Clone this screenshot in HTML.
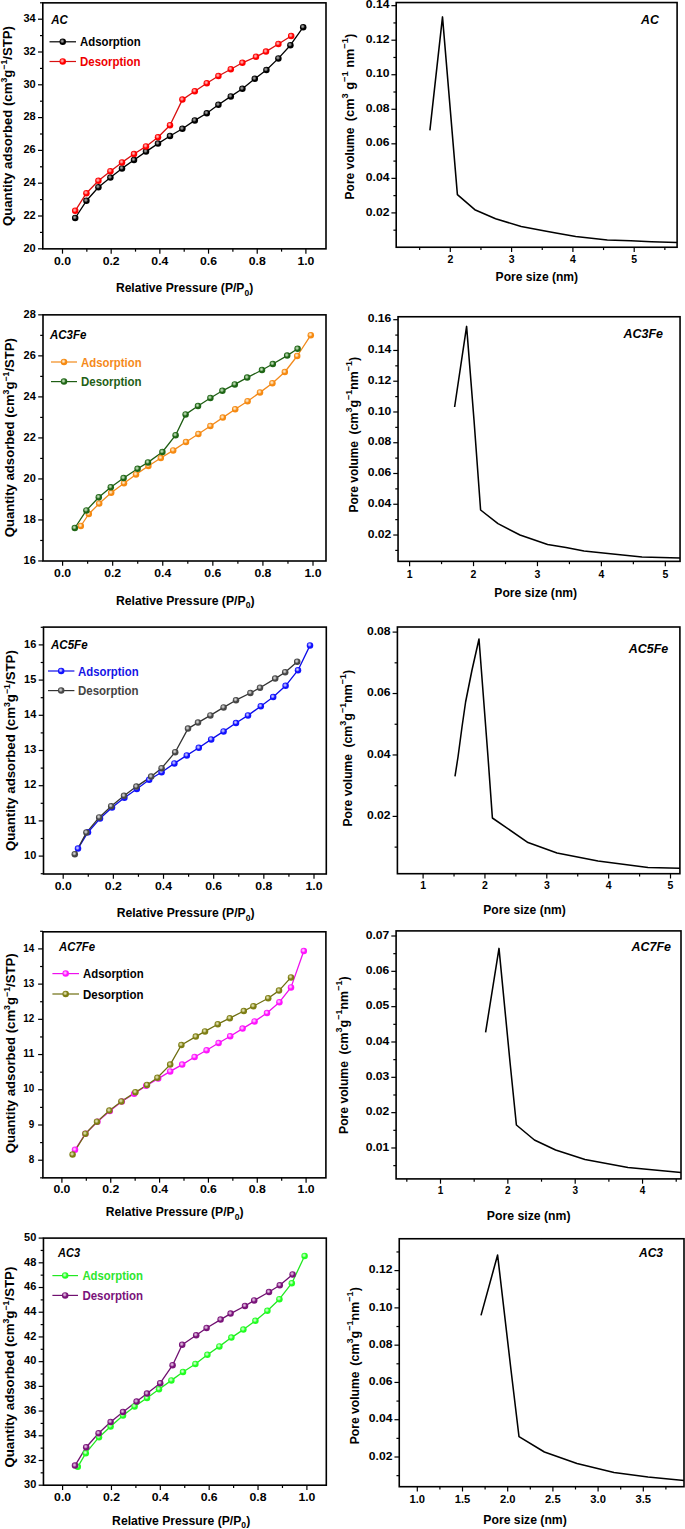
<!DOCTYPE html>
<html><head><meta charset="utf-8"><style>
html,body{margin:0;padding:0;background:#fff;}
svg{display:block;font-family:"Liberation Sans", sans-serif;}
</style></head><body>
<svg width="685" height="1529" viewBox="0 0 685 1529">
<defs><radialGradient id="g0" cx="0.42" cy="0.4" r="0.34"><stop offset="0" stop-color="#bbb" stop-opacity="0.95"/><stop offset="0.5" stop-color="#bbb" stop-opacity="0.6"/><stop offset="1" stop-color="#bbb" stop-opacity="0"/></radialGradient><radialGradient id="g1" cx="0.42" cy="0.4" r="0.34"><stop offset="0" stop-color="#fcc" stop-opacity="0.95"/><stop offset="0.5" stop-color="#fcc" stop-opacity="0.6"/><stop offset="1" stop-color="#fcc" stop-opacity="0"/></radialGradient><radialGradient id="g2" cx="0.42" cy="0.4" r="0.34"><stop offset="0" stop-color="#fff6e0" stop-opacity="0.95"/><stop offset="0.5" stop-color="#fff6e0" stop-opacity="0.6"/><stop offset="1" stop-color="#fff6e0" stop-opacity="0"/></radialGradient><radialGradient id="g3" cx="0.42" cy="0.4" r="0.34"><stop offset="0" stop-color="#d8f0d0" stop-opacity="0.95"/><stop offset="0.5" stop-color="#d8f0d0" stop-opacity="0.6"/><stop offset="1" stop-color="#d8f0d0" stop-opacity="0"/></radialGradient><radialGradient id="g4" cx="0.42" cy="0.4" r="0.34"><stop offset="0" stop-color="#e0e0ff" stop-opacity="0.95"/><stop offset="0.5" stop-color="#e0e0ff" stop-opacity="0.6"/><stop offset="1" stop-color="#e0e0ff" stop-opacity="0"/></radialGradient><radialGradient id="g5" cx="0.42" cy="0.4" r="0.34"><stop offset="0" stop-color="#e8e8e8" stop-opacity="0.95"/><stop offset="0.5" stop-color="#e8e8e8" stop-opacity="0.6"/><stop offset="1" stop-color="#e8e8e8" stop-opacity="0"/></radialGradient><radialGradient id="g6" cx="0.42" cy="0.4" r="0.34"><stop offset="0" stop-color="#ffe0ff" stop-opacity="0.95"/><stop offset="0.5" stop-color="#ffe0ff" stop-opacity="0.6"/><stop offset="1" stop-color="#ffe0ff" stop-opacity="0"/></radialGradient><radialGradient id="g7" cx="0.42" cy="0.4" r="0.34"><stop offset="0" stop-color="#f0f0c8" stop-opacity="0.95"/><stop offset="0.5" stop-color="#f0f0c8" stop-opacity="0.6"/><stop offset="1" stop-color="#f0f0c8" stop-opacity="0"/></radialGradient><radialGradient id="g8" cx="0.42" cy="0.4" r="0.34"><stop offset="0" stop-color="#e8ffe8" stop-opacity="0.95"/><stop offset="0.5" stop-color="#e8ffe8" stop-opacity="0.6"/><stop offset="1" stop-color="#e8ffe8" stop-opacity="0"/></radialGradient><radialGradient id="g9" cx="0.42" cy="0.4" r="0.34"><stop offset="0" stop-color="#f0d8f0" stop-opacity="0.95"/><stop offset="0.5" stop-color="#f0d8f0" stop-opacity="0.6"/><stop offset="1" stop-color="#f0d8f0" stop-opacity="0"/></radialGradient></defs>
<rect width="685" height="1529" fill="#fff"/>
<polyline points="75.2,218 86.4,200.8 98.4,187.2 110.4,177.6 122,168.4 134,160 146,151.6 158,143.6 170,136 182.4,128.8 194.8,120.4 206.8,113.2 218.4,104.8 230.8,96.4 242.4,88.8 254.8,78.8 266.4,70 278.4,58.4 290.4,45.2 303.2,27.2" fill="none" stroke="#000" stroke-width="1.3" stroke-linejoin="round"/>
<polyline points="75.2,210.8 86.4,193.2 98.4,180.8 110.4,171.2 122,162.4 134,154 146,146.4 158,137.2 170,125.2 182.4,99.6 194.8,91.2 206.8,83.2 218.4,76 230.8,69.2 242.4,62.8 256,56.8 266,51.6 278.4,44 291.2,36" fill="none" stroke="#d81010" stroke-width="1.3" stroke-linejoin="round"/>
<circle cx="75.2" cy="218" r="3.25" fill="#000"/><circle cx="75.2" cy="218" r="3.25" fill="url(#g0)"/>
<circle cx="86.4" cy="200.8" r="3.25" fill="#000"/><circle cx="86.4" cy="200.8" r="3.25" fill="url(#g0)"/>
<circle cx="98.4" cy="187.2" r="3.25" fill="#000"/><circle cx="98.4" cy="187.2" r="3.25" fill="url(#g0)"/>
<circle cx="110.4" cy="177.6" r="3.25" fill="#000"/><circle cx="110.4" cy="177.6" r="3.25" fill="url(#g0)"/>
<circle cx="122" cy="168.4" r="3.25" fill="#000"/><circle cx="122" cy="168.4" r="3.25" fill="url(#g0)"/>
<circle cx="134" cy="160" r="3.25" fill="#000"/><circle cx="134" cy="160" r="3.25" fill="url(#g0)"/>
<circle cx="146" cy="151.6" r="3.25" fill="#000"/><circle cx="146" cy="151.6" r="3.25" fill="url(#g0)"/>
<circle cx="158" cy="143.6" r="3.25" fill="#000"/><circle cx="158" cy="143.6" r="3.25" fill="url(#g0)"/>
<circle cx="170" cy="136" r="3.25" fill="#000"/><circle cx="170" cy="136" r="3.25" fill="url(#g0)"/>
<circle cx="182.4" cy="128.8" r="3.25" fill="#000"/><circle cx="182.4" cy="128.8" r="3.25" fill="url(#g0)"/>
<circle cx="194.8" cy="120.4" r="3.25" fill="#000"/><circle cx="194.8" cy="120.4" r="3.25" fill="url(#g0)"/>
<circle cx="206.8" cy="113.2" r="3.25" fill="#000"/><circle cx="206.8" cy="113.2" r="3.25" fill="url(#g0)"/>
<circle cx="218.4" cy="104.8" r="3.25" fill="#000"/><circle cx="218.4" cy="104.8" r="3.25" fill="url(#g0)"/>
<circle cx="230.8" cy="96.4" r="3.25" fill="#000"/><circle cx="230.8" cy="96.4" r="3.25" fill="url(#g0)"/>
<circle cx="242.4" cy="88.8" r="3.25" fill="#000"/><circle cx="242.4" cy="88.8" r="3.25" fill="url(#g0)"/>
<circle cx="254.8" cy="78.8" r="3.25" fill="#000"/><circle cx="254.8" cy="78.8" r="3.25" fill="url(#g0)"/>
<circle cx="266.4" cy="70" r="3.25" fill="#000"/><circle cx="266.4" cy="70" r="3.25" fill="url(#g0)"/>
<circle cx="278.4" cy="58.4" r="3.25" fill="#000"/><circle cx="278.4" cy="58.4" r="3.25" fill="url(#g0)"/>
<circle cx="290.4" cy="45.2" r="3.25" fill="#000"/><circle cx="290.4" cy="45.2" r="3.25" fill="url(#g0)"/>
<circle cx="303.2" cy="27.2" r="3.25" fill="#000"/><circle cx="303.2" cy="27.2" r="3.25" fill="url(#g0)"/>
<circle cx="75.2" cy="210.8" r="3.25" fill="#f00"/><circle cx="75.2" cy="210.8" r="3.25" fill="url(#g1)"/>
<circle cx="86.4" cy="193.2" r="3.25" fill="#f00"/><circle cx="86.4" cy="193.2" r="3.25" fill="url(#g1)"/>
<circle cx="98.4" cy="180.8" r="3.25" fill="#f00"/><circle cx="98.4" cy="180.8" r="3.25" fill="url(#g1)"/>
<circle cx="110.4" cy="171.2" r="3.25" fill="#f00"/><circle cx="110.4" cy="171.2" r="3.25" fill="url(#g1)"/>
<circle cx="122" cy="162.4" r="3.25" fill="#f00"/><circle cx="122" cy="162.4" r="3.25" fill="url(#g1)"/>
<circle cx="134" cy="154" r="3.25" fill="#f00"/><circle cx="134" cy="154" r="3.25" fill="url(#g1)"/>
<circle cx="146" cy="146.4" r="3.25" fill="#f00"/><circle cx="146" cy="146.4" r="3.25" fill="url(#g1)"/>
<circle cx="158" cy="137.2" r="3.25" fill="#f00"/><circle cx="158" cy="137.2" r="3.25" fill="url(#g1)"/>
<circle cx="170" cy="125.2" r="3.25" fill="#f00"/><circle cx="170" cy="125.2" r="3.25" fill="url(#g1)"/>
<circle cx="182.4" cy="99.6" r="3.25" fill="#f00"/><circle cx="182.4" cy="99.6" r="3.25" fill="url(#g1)"/>
<circle cx="194.8" cy="91.2" r="3.25" fill="#f00"/><circle cx="194.8" cy="91.2" r="3.25" fill="url(#g1)"/>
<circle cx="206.8" cy="83.2" r="3.25" fill="#f00"/><circle cx="206.8" cy="83.2" r="3.25" fill="url(#g1)"/>
<circle cx="218.4" cy="76" r="3.25" fill="#f00"/><circle cx="218.4" cy="76" r="3.25" fill="url(#g1)"/>
<circle cx="230.8" cy="69.2" r="3.25" fill="#f00"/><circle cx="230.8" cy="69.2" r="3.25" fill="url(#g1)"/>
<circle cx="242.4" cy="62.8" r="3.25" fill="#f00"/><circle cx="242.4" cy="62.8" r="3.25" fill="url(#g1)"/>
<circle cx="256" cy="56.8" r="3.25" fill="#f00"/><circle cx="256" cy="56.8" r="3.25" fill="url(#g1)"/>
<circle cx="266" cy="51.6" r="3.25" fill="#f00"/><circle cx="266" cy="51.6" r="3.25" fill="url(#g1)"/>
<circle cx="278.4" cy="44" r="3.25" fill="#f00"/><circle cx="278.4" cy="44" r="3.25" fill="url(#g1)"/>
<circle cx="291.2" cy="36" r="3.25" fill="#f00"/><circle cx="291.2" cy="36" r="3.25" fill="url(#g1)"/>
<rect x="42.8" y="2.85" width="283.2" height="246" fill="none" stroke="#000" stroke-width="1.6"/>
<line x1="38" y1="248.8" x2="42.8" y2="248.8" stroke="#000" stroke-width="1.2"/>
<line x1="38" y1="216" x2="42.8" y2="216" stroke="#000" stroke-width="1.2"/>
<line x1="38" y1="183.2" x2="42.8" y2="183.2" stroke="#000" stroke-width="1.2"/>
<line x1="38" y1="150.4" x2="42.8" y2="150.4" stroke="#000" stroke-width="1.2"/>
<line x1="38" y1="117.6" x2="42.8" y2="117.6" stroke="#000" stroke-width="1.2"/>
<line x1="38" y1="84.8" x2="42.8" y2="84.8" stroke="#000" stroke-width="1.2"/>
<line x1="38" y1="52" x2="42.8" y2="52" stroke="#000" stroke-width="1.2"/>
<line x1="38" y1="19.2" x2="42.8" y2="19.2" stroke="#000" stroke-width="1.2"/>
<line x1="40" y1="232.4" x2="42.8" y2="232.4" stroke="#000" stroke-width="1.2"/>
<line x1="40" y1="199.6" x2="42.8" y2="199.6" stroke="#000" stroke-width="1.2"/>
<line x1="40" y1="166.8" x2="42.8" y2="166.8" stroke="#000" stroke-width="1.2"/>
<line x1="40" y1="134" x2="42.8" y2="134" stroke="#000" stroke-width="1.2"/>
<line x1="40" y1="101.2" x2="42.8" y2="101.2" stroke="#000" stroke-width="1.2"/>
<line x1="40" y1="68.4" x2="42.8" y2="68.4" stroke="#000" stroke-width="1.2"/>
<line x1="40" y1="35.6" x2="42.8" y2="35.6" stroke="#000" stroke-width="1.2"/>
<line x1="40" y1="2.8" x2="42.8" y2="2.8" stroke="#000" stroke-width="1.2"/>
<text x="35.6" y="251.5" font-size="11.8" text-anchor="end" font-weight="bold" font-style="normal" fill="#000" textLength="12.2" lengthAdjust="spacingAndGlyphs">20</text>
<text x="35.6" y="218.7" font-size="11.8" text-anchor="end" font-weight="bold" font-style="normal" fill="#000" textLength="12.2" lengthAdjust="spacingAndGlyphs">22</text>
<text x="35.6" y="185.9" font-size="11.8" text-anchor="end" font-weight="bold" font-style="normal" fill="#000" textLength="12.2" lengthAdjust="spacingAndGlyphs">24</text>
<text x="35.6" y="153.1" font-size="11.8" text-anchor="end" font-weight="bold" font-style="normal" fill="#000" textLength="12.2" lengthAdjust="spacingAndGlyphs">26</text>
<text x="35.6" y="120.3" font-size="11.8" text-anchor="end" font-weight="bold" font-style="normal" fill="#000" textLength="12.2" lengthAdjust="spacingAndGlyphs">28</text>
<text x="35.6" y="87.5" font-size="11.8" text-anchor="end" font-weight="bold" font-style="normal" fill="#000" textLength="12.2" lengthAdjust="spacingAndGlyphs">30</text>
<text x="35.6" y="54.7" font-size="11.8" text-anchor="end" font-weight="bold" font-style="normal" fill="#000" textLength="12.2" lengthAdjust="spacingAndGlyphs">32</text>
<text x="35.6" y="21.9" font-size="11.8" text-anchor="end" font-weight="bold" font-style="normal" fill="#000" textLength="12.2" lengthAdjust="spacingAndGlyphs">34</text>
<line x1="62.5" y1="248.85" x2="62.5" y2="253.65" stroke="#000" stroke-width="1.2"/>
<line x1="111.18" y1="248.85" x2="111.18" y2="253.65" stroke="#000" stroke-width="1.2"/>
<line x1="159.86" y1="248.85" x2="159.86" y2="253.65" stroke="#000" stroke-width="1.2"/>
<line x1="208.54" y1="248.85" x2="208.54" y2="253.65" stroke="#000" stroke-width="1.2"/>
<line x1="257.22" y1="248.85" x2="257.22" y2="253.65" stroke="#000" stroke-width="1.2"/>
<line x1="305.9" y1="248.85" x2="305.9" y2="253.65" stroke="#000" stroke-width="1.2"/>
<line x1="86.84" y1="248.85" x2="86.84" y2="251.65" stroke="#000" stroke-width="1.2"/>
<line x1="135.52" y1="248.85" x2="135.52" y2="251.65" stroke="#000" stroke-width="1.2"/>
<line x1="184.2" y1="248.85" x2="184.2" y2="251.65" stroke="#000" stroke-width="1.2"/>
<line x1="232.88" y1="248.85" x2="232.88" y2="251.65" stroke="#000" stroke-width="1.2"/>
<line x1="281.56" y1="248.85" x2="281.56" y2="251.65" stroke="#000" stroke-width="1.2"/>
<text x="62.5" y="264.9" font-size="11" text-anchor="middle" font-weight="bold" font-style="normal" fill="#000" textLength="17" lengthAdjust="spacingAndGlyphs">0.0</text>
<text x="111.18" y="264.9" font-size="11" text-anchor="middle" font-weight="bold" font-style="normal" fill="#000" textLength="17" lengthAdjust="spacingAndGlyphs">0.2</text>
<text x="159.86" y="264.9" font-size="11" text-anchor="middle" font-weight="bold" font-style="normal" fill="#000" textLength="17" lengthAdjust="spacingAndGlyphs">0.4</text>
<text x="208.54" y="264.9" font-size="11" text-anchor="middle" font-weight="bold" font-style="normal" fill="#000" textLength="17" lengthAdjust="spacingAndGlyphs">0.6</text>
<text x="257.22" y="264.9" font-size="11" text-anchor="middle" font-weight="bold" font-style="normal" fill="#000" textLength="17" lengthAdjust="spacingAndGlyphs">0.8</text>
<text x="305.9" y="264.9" font-size="11" text-anchor="middle" font-weight="bold" font-style="normal" fill="#000" textLength="17" lengthAdjust="spacingAndGlyphs">1.0</text>
<text x="115.9" y="292" font-size="13.5" font-weight="bold" textLength="137.3" lengthAdjust="spacingAndGlyphs">Relative Pressure (P/P<tspan font-size="9.5" dy="3.8">0</tspan><tspan dy="-3.8">)</tspan></text>
<text transform="translate(12.2,226) rotate(-90)" x="0" y="0" font-size="13.5" font-weight="bold" textLength="200" lengthAdjust="spacingAndGlyphs">Quantity adsorbed (cm<tspan font-size="9" dy="-5">3</tspan><tspan dy="5">g</tspan><tspan font-size="9" dy="-5">&#8722;1</tspan><tspan dy="5">/STP)</tspan></text>
<text x="51.3" y="24.4" font-size="12.8" text-anchor="start" font-weight="bold" font-style="italic" fill="#000" textLength="16.6" lengthAdjust="spacingAndGlyphs">AC</text>
<line x1="49.5" y1="41.8" x2="76" y2="41.8" stroke="#000" stroke-width="1.2"/>
<line x1="49.5" y1="61.5" x2="76" y2="61.5" stroke="#d81010" stroke-width="1.2"/>
<circle cx="62.75" cy="41.8" r="3.25" fill="#000"/><circle cx="62.75" cy="41.8" r="3.25" fill="url(#g0)"/>
<circle cx="62.75" cy="61.5" r="3.25" fill="#f00"/><circle cx="62.75" cy="61.5" r="3.25" fill="url(#g1)"/>
<text x="80" y="46.4" font-size="13" text-anchor="start" font-weight="bold" font-style="normal" fill="#000" textLength="60.6" lengthAdjust="spacingAndGlyphs">Adsorption</text>
<text x="80" y="66.1" font-size="13" text-anchor="start" font-weight="bold" font-style="normal" fill="#e00" textLength="60.6" lengthAdjust="spacingAndGlyphs">Desorption</text>
<polyline points="80.8,526 88.8,514 99.2,503.6 111.2,492.8 124,483.2 136,474.4 148.4,466 160.8,458 173.2,450.4 186,442 198.4,434 210.4,426 222.8,417.6 235.2,409.2 247.6,401.2 260,392.4 272.4,383.2 284.8,372 297.2,356 310.8,335.2" fill="none" stroke="#f28a1c" stroke-width="1.3" stroke-linejoin="round"/>
<polyline points="74.8,528 86.4,510.4 98.8,497.2 110.8,487.2 123.6,478 137.6,468.8 148,462.4 162.4,452 175.6,435.2 185.6,414.4 198,406 210.4,398 222.4,390.8 234.8,384.4 247.2,377.6 262,370 272.8,364 287.2,355.6 297.6,348.8" fill="none" stroke="#1f5e14" stroke-width="1.3" stroke-linejoin="round"/>
<circle cx="80.8" cy="526" r="3.25" fill="#f68a12"/><circle cx="80.8" cy="526" r="3.25" fill="url(#g2)"/>
<circle cx="88.8" cy="514" r="3.25" fill="#f68a12"/><circle cx="88.8" cy="514" r="3.25" fill="url(#g2)"/>
<circle cx="99.2" cy="503.6" r="3.25" fill="#f68a12"/><circle cx="99.2" cy="503.6" r="3.25" fill="url(#g2)"/>
<circle cx="111.2" cy="492.8" r="3.25" fill="#f68a12"/><circle cx="111.2" cy="492.8" r="3.25" fill="url(#g2)"/>
<circle cx="124" cy="483.2" r="3.25" fill="#f68a12"/><circle cx="124" cy="483.2" r="3.25" fill="url(#g2)"/>
<circle cx="136" cy="474.4" r="3.25" fill="#f68a12"/><circle cx="136" cy="474.4" r="3.25" fill="url(#g2)"/>
<circle cx="148.4" cy="466" r="3.25" fill="#f68a12"/><circle cx="148.4" cy="466" r="3.25" fill="url(#g2)"/>
<circle cx="160.8" cy="458" r="3.25" fill="#f68a12"/><circle cx="160.8" cy="458" r="3.25" fill="url(#g2)"/>
<circle cx="173.2" cy="450.4" r="3.25" fill="#f68a12"/><circle cx="173.2" cy="450.4" r="3.25" fill="url(#g2)"/>
<circle cx="186" cy="442" r="3.25" fill="#f68a12"/><circle cx="186" cy="442" r="3.25" fill="url(#g2)"/>
<circle cx="198.4" cy="434" r="3.25" fill="#f68a12"/><circle cx="198.4" cy="434" r="3.25" fill="url(#g2)"/>
<circle cx="210.4" cy="426" r="3.25" fill="#f68a12"/><circle cx="210.4" cy="426" r="3.25" fill="url(#g2)"/>
<circle cx="222.8" cy="417.6" r="3.25" fill="#f68a12"/><circle cx="222.8" cy="417.6" r="3.25" fill="url(#g2)"/>
<circle cx="235.2" cy="409.2" r="3.25" fill="#f68a12"/><circle cx="235.2" cy="409.2" r="3.25" fill="url(#g2)"/>
<circle cx="247.6" cy="401.2" r="3.25" fill="#f68a12"/><circle cx="247.6" cy="401.2" r="3.25" fill="url(#g2)"/>
<circle cx="260" cy="392.4" r="3.25" fill="#f68a12"/><circle cx="260" cy="392.4" r="3.25" fill="url(#g2)"/>
<circle cx="272.4" cy="383.2" r="3.25" fill="#f68a12"/><circle cx="272.4" cy="383.2" r="3.25" fill="url(#g2)"/>
<circle cx="284.8" cy="372" r="3.25" fill="#f68a12"/><circle cx="284.8" cy="372" r="3.25" fill="url(#g2)"/>
<circle cx="297.2" cy="356" r="3.25" fill="#f68a12"/><circle cx="297.2" cy="356" r="3.25" fill="url(#g2)"/>
<circle cx="310.8" cy="335.2" r="3.25" fill="#f68a12"/><circle cx="310.8" cy="335.2" r="3.25" fill="url(#g2)"/>
<circle cx="74.8" cy="528" r="3.25" fill="#1f6616"/><circle cx="74.8" cy="528" r="3.25" fill="url(#g3)"/>
<circle cx="86.4" cy="510.4" r="3.25" fill="#1f6616"/><circle cx="86.4" cy="510.4" r="3.25" fill="url(#g3)"/>
<circle cx="98.8" cy="497.2" r="3.25" fill="#1f6616"/><circle cx="98.8" cy="497.2" r="3.25" fill="url(#g3)"/>
<circle cx="110.8" cy="487.2" r="3.25" fill="#1f6616"/><circle cx="110.8" cy="487.2" r="3.25" fill="url(#g3)"/>
<circle cx="123.6" cy="478" r="3.25" fill="#1f6616"/><circle cx="123.6" cy="478" r="3.25" fill="url(#g3)"/>
<circle cx="137.6" cy="468.8" r="3.25" fill="#1f6616"/><circle cx="137.6" cy="468.8" r="3.25" fill="url(#g3)"/>
<circle cx="148" cy="462.4" r="3.25" fill="#1f6616"/><circle cx="148" cy="462.4" r="3.25" fill="url(#g3)"/>
<circle cx="162.4" cy="452" r="3.25" fill="#1f6616"/><circle cx="162.4" cy="452" r="3.25" fill="url(#g3)"/>
<circle cx="175.6" cy="435.2" r="3.25" fill="#1f6616"/><circle cx="175.6" cy="435.2" r="3.25" fill="url(#g3)"/>
<circle cx="185.6" cy="414.4" r="3.25" fill="#1f6616"/><circle cx="185.6" cy="414.4" r="3.25" fill="url(#g3)"/>
<circle cx="198" cy="406" r="3.25" fill="#1f6616"/><circle cx="198" cy="406" r="3.25" fill="url(#g3)"/>
<circle cx="210.4" cy="398" r="3.25" fill="#1f6616"/><circle cx="210.4" cy="398" r="3.25" fill="url(#g3)"/>
<circle cx="222.4" cy="390.8" r="3.25" fill="#1f6616"/><circle cx="222.4" cy="390.8" r="3.25" fill="url(#g3)"/>
<circle cx="234.8" cy="384.4" r="3.25" fill="#1f6616"/><circle cx="234.8" cy="384.4" r="3.25" fill="url(#g3)"/>
<circle cx="247.2" cy="377.6" r="3.25" fill="#1f6616"/><circle cx="247.2" cy="377.6" r="3.25" fill="url(#g3)"/>
<circle cx="262" cy="370" r="3.25" fill="#1f6616"/><circle cx="262" cy="370" r="3.25" fill="url(#g3)"/>
<circle cx="272.8" cy="364" r="3.25" fill="#1f6616"/><circle cx="272.8" cy="364" r="3.25" fill="url(#g3)"/>
<circle cx="287.2" cy="355.6" r="3.25" fill="#1f6616"/><circle cx="287.2" cy="355.6" r="3.25" fill="url(#g3)"/>
<circle cx="297.6" cy="348.8" r="3.25" fill="#1f6616"/><circle cx="297.6" cy="348.8" r="3.25" fill="url(#g3)"/>
<rect x="43" y="314.85" width="283" height="246.15" fill="none" stroke="#000" stroke-width="1.6"/>
<line x1="38.2" y1="560.97" x2="43" y2="560.97" stroke="#000" stroke-width="1.2"/>
<line x1="38.2" y1="519.95" x2="43" y2="519.95" stroke="#000" stroke-width="1.2"/>
<line x1="38.2" y1="478.93" x2="43" y2="478.93" stroke="#000" stroke-width="1.2"/>
<line x1="38.2" y1="437.91" x2="43" y2="437.91" stroke="#000" stroke-width="1.2"/>
<line x1="38.2" y1="396.89" x2="43" y2="396.89" stroke="#000" stroke-width="1.2"/>
<line x1="38.2" y1="355.87" x2="43" y2="355.87" stroke="#000" stroke-width="1.2"/>
<line x1="38.2" y1="314.85" x2="43" y2="314.85" stroke="#000" stroke-width="1.2"/>
<line x1="40.2" y1="540.46" x2="43" y2="540.46" stroke="#000" stroke-width="1.2"/>
<line x1="40.2" y1="499.44" x2="43" y2="499.44" stroke="#000" stroke-width="1.2"/>
<line x1="40.2" y1="458.42" x2="43" y2="458.42" stroke="#000" stroke-width="1.2"/>
<line x1="40.2" y1="417.4" x2="43" y2="417.4" stroke="#000" stroke-width="1.2"/>
<line x1="40.2" y1="376.38" x2="43" y2="376.38" stroke="#000" stroke-width="1.2"/>
<line x1="40.2" y1="335.36" x2="43" y2="335.36" stroke="#000" stroke-width="1.2"/>
<text x="35.8" y="563.67" font-size="11.8" text-anchor="end" font-weight="bold" font-style="normal" fill="#000" textLength="12.2" lengthAdjust="spacingAndGlyphs">16</text>
<text x="35.8" y="522.65" font-size="11.8" text-anchor="end" font-weight="bold" font-style="normal" fill="#000" textLength="12.2" lengthAdjust="spacingAndGlyphs">18</text>
<text x="35.8" y="481.63" font-size="11.8" text-anchor="end" font-weight="bold" font-style="normal" fill="#000" textLength="12.2" lengthAdjust="spacingAndGlyphs">20</text>
<text x="35.8" y="440.61" font-size="11.8" text-anchor="end" font-weight="bold" font-style="normal" fill="#000" textLength="12.2" lengthAdjust="spacingAndGlyphs">22</text>
<text x="35.8" y="399.59" font-size="11.8" text-anchor="end" font-weight="bold" font-style="normal" fill="#000" textLength="12.2" lengthAdjust="spacingAndGlyphs">24</text>
<text x="35.8" y="358.57" font-size="11.8" text-anchor="end" font-weight="bold" font-style="normal" fill="#000" textLength="12.2" lengthAdjust="spacingAndGlyphs">26</text>
<text x="35.8" y="317.55" font-size="11.8" text-anchor="end" font-weight="bold" font-style="normal" fill="#000" textLength="12.2" lengthAdjust="spacingAndGlyphs">28</text>
<line x1="62.6" y1="561" x2="62.6" y2="565.8" stroke="#000" stroke-width="1.2"/>
<line x1="112.68" y1="561" x2="112.68" y2="565.8" stroke="#000" stroke-width="1.2"/>
<line x1="162.76" y1="561" x2="162.76" y2="565.8" stroke="#000" stroke-width="1.2"/>
<line x1="212.84" y1="561" x2="212.84" y2="565.8" stroke="#000" stroke-width="1.2"/>
<line x1="262.92" y1="561" x2="262.92" y2="565.8" stroke="#000" stroke-width="1.2"/>
<line x1="313" y1="561" x2="313" y2="565.8" stroke="#000" stroke-width="1.2"/>
<line x1="87.64" y1="561" x2="87.64" y2="563.8" stroke="#000" stroke-width="1.2"/>
<line x1="137.72" y1="561" x2="137.72" y2="563.8" stroke="#000" stroke-width="1.2"/>
<line x1="187.8" y1="561" x2="187.8" y2="563.8" stroke="#000" stroke-width="1.2"/>
<line x1="237.88" y1="561" x2="237.88" y2="563.8" stroke="#000" stroke-width="1.2"/>
<line x1="287.96" y1="561" x2="287.96" y2="563.8" stroke="#000" stroke-width="1.2"/>
<text x="62.6" y="577.4" font-size="11" text-anchor="middle" font-weight="bold" font-style="normal" fill="#000" textLength="17" lengthAdjust="spacingAndGlyphs">0.0</text>
<text x="112.68" y="577.4" font-size="11" text-anchor="middle" font-weight="bold" font-style="normal" fill="#000" textLength="17" lengthAdjust="spacingAndGlyphs">0.2</text>
<text x="162.76" y="577.4" font-size="11" text-anchor="middle" font-weight="bold" font-style="normal" fill="#000" textLength="17" lengthAdjust="spacingAndGlyphs">0.4</text>
<text x="212.84" y="577.4" font-size="11" text-anchor="middle" font-weight="bold" font-style="normal" fill="#000" textLength="17" lengthAdjust="spacingAndGlyphs">0.6</text>
<text x="262.92" y="577.4" font-size="11" text-anchor="middle" font-weight="bold" font-style="normal" fill="#000" textLength="17" lengthAdjust="spacingAndGlyphs">0.8</text>
<text x="313" y="577.4" font-size="11" text-anchor="middle" font-weight="bold" font-style="normal" fill="#000" textLength="17" lengthAdjust="spacingAndGlyphs">1.0</text>
<text x="115.9" y="604.5" font-size="13.5" font-weight="bold" textLength="138.6" lengthAdjust="spacingAndGlyphs">Relative Pressure (P/P<tspan font-size="9.5" dy="3.8">0</tspan><tspan dy="-3.8">)</tspan></text>
<text transform="translate(13.8,537.3) rotate(-90)" x="0" y="0" font-size="13.5" font-weight="bold" textLength="199.3" lengthAdjust="spacingAndGlyphs">Quantity adsorbed (cm<tspan font-size="9" dy="-5">3</tspan><tspan dy="5">g</tspan><tspan font-size="9" dy="-5">&#8722;1</tspan><tspan dy="5">/STP)</tspan></text>
<text x="50" y="339" font-size="12.8" text-anchor="start" font-weight="bold" font-style="italic" fill="#000" textLength="36.4" lengthAdjust="spacingAndGlyphs">AC3Fe</text>
<line x1="51" y1="362" x2="77" y2="362" stroke="#f28a1c" stroke-width="1.2"/>
<line x1="51" y1="381.6" x2="77" y2="381.6" stroke="#1f5e14" stroke-width="1.2"/>
<circle cx="64" cy="362" r="3.25" fill="#f68a12"/><circle cx="64" cy="362" r="3.25" fill="url(#g2)"/>
<circle cx="64" cy="381.6" r="3.25" fill="#1f6616"/><circle cx="64" cy="381.6" r="3.25" fill="url(#g3)"/>
<text x="81" y="366.6" font-size="13" text-anchor="start" font-weight="bold" font-style="normal" fill="#f58a1a" textLength="60.6" lengthAdjust="spacingAndGlyphs">Adsorption</text>
<text x="81" y="386.2" font-size="13" text-anchor="start" font-weight="bold" font-style="normal" fill="#1f6016" textLength="60.6" lengthAdjust="spacingAndGlyphs">Desorption</text>
<polyline points="78,848.6 88,832.2 100,818.6 112,807.4 124.4,797.8 136.8,789 149.2,779.8 161.6,772.2 174.4,763.4 186.8,755.4 198.8,747.8 211.2,739.4 223.6,731.4 236,723 248,715.4 260.8,706.2 273.2,697 285.6,685.8 298,670.2 310,645.4" fill="none" stroke="#0c0ce8" stroke-width="1.3" stroke-linejoin="round"/>
<polyline points="74.8,854.2 86.4,832.6 99.2,817.4 111.2,806.2 124,795.8 136.4,786.6 151.2,776.6 161.6,768.2 175.2,752.2 188,728.6 198,722.6 210.4,715.4 223.6,707.4 236,700.2 250.4,693 260,687.8 275.2,678.6 285.2,672.2 297.2,661.8" fill="none" stroke="#333" stroke-width="1.3" stroke-linejoin="round"/>
<circle cx="78" cy="848.6" r="3.25" fill="#1212ff"/><circle cx="78" cy="848.6" r="3.25" fill="url(#g4)"/>
<circle cx="88" cy="832.2" r="3.25" fill="#1212ff"/><circle cx="88" cy="832.2" r="3.25" fill="url(#g4)"/>
<circle cx="100" cy="818.6" r="3.25" fill="#1212ff"/><circle cx="100" cy="818.6" r="3.25" fill="url(#g4)"/>
<circle cx="112" cy="807.4" r="3.25" fill="#1212ff"/><circle cx="112" cy="807.4" r="3.25" fill="url(#g4)"/>
<circle cx="124.4" cy="797.8" r="3.25" fill="#1212ff"/><circle cx="124.4" cy="797.8" r="3.25" fill="url(#g4)"/>
<circle cx="136.8" cy="789" r="3.25" fill="#1212ff"/><circle cx="136.8" cy="789" r="3.25" fill="url(#g4)"/>
<circle cx="149.2" cy="779.8" r="3.25" fill="#1212ff"/><circle cx="149.2" cy="779.8" r="3.25" fill="url(#g4)"/>
<circle cx="161.6" cy="772.2" r="3.25" fill="#1212ff"/><circle cx="161.6" cy="772.2" r="3.25" fill="url(#g4)"/>
<circle cx="174.4" cy="763.4" r="3.25" fill="#1212ff"/><circle cx="174.4" cy="763.4" r="3.25" fill="url(#g4)"/>
<circle cx="186.8" cy="755.4" r="3.25" fill="#1212ff"/><circle cx="186.8" cy="755.4" r="3.25" fill="url(#g4)"/>
<circle cx="198.8" cy="747.8" r="3.25" fill="#1212ff"/><circle cx="198.8" cy="747.8" r="3.25" fill="url(#g4)"/>
<circle cx="211.2" cy="739.4" r="3.25" fill="#1212ff"/><circle cx="211.2" cy="739.4" r="3.25" fill="url(#g4)"/>
<circle cx="223.6" cy="731.4" r="3.25" fill="#1212ff"/><circle cx="223.6" cy="731.4" r="3.25" fill="url(#g4)"/>
<circle cx="236" cy="723" r="3.25" fill="#1212ff"/><circle cx="236" cy="723" r="3.25" fill="url(#g4)"/>
<circle cx="248" cy="715.4" r="3.25" fill="#1212ff"/><circle cx="248" cy="715.4" r="3.25" fill="url(#g4)"/>
<circle cx="260.8" cy="706.2" r="3.25" fill="#1212ff"/><circle cx="260.8" cy="706.2" r="3.25" fill="url(#g4)"/>
<circle cx="273.2" cy="697" r="3.25" fill="#1212ff"/><circle cx="273.2" cy="697" r="3.25" fill="url(#g4)"/>
<circle cx="285.6" cy="685.8" r="3.25" fill="#1212ff"/><circle cx="285.6" cy="685.8" r="3.25" fill="url(#g4)"/>
<circle cx="298" cy="670.2" r="3.25" fill="#1212ff"/><circle cx="298" cy="670.2" r="3.25" fill="url(#g4)"/>
<circle cx="310" cy="645.4" r="3.25" fill="#1212ff"/><circle cx="310" cy="645.4" r="3.25" fill="url(#g4)"/>
<circle cx="74.8" cy="854.2" r="3.25" fill="#474747"/><circle cx="74.8" cy="854.2" r="3.25" fill="url(#g5)"/>
<circle cx="86.4" cy="832.6" r="3.25" fill="#474747"/><circle cx="86.4" cy="832.6" r="3.25" fill="url(#g5)"/>
<circle cx="99.2" cy="817.4" r="3.25" fill="#474747"/><circle cx="99.2" cy="817.4" r="3.25" fill="url(#g5)"/>
<circle cx="111.2" cy="806.2" r="3.25" fill="#474747"/><circle cx="111.2" cy="806.2" r="3.25" fill="url(#g5)"/>
<circle cx="124" cy="795.8" r="3.25" fill="#474747"/><circle cx="124" cy="795.8" r="3.25" fill="url(#g5)"/>
<circle cx="136.4" cy="786.6" r="3.25" fill="#474747"/><circle cx="136.4" cy="786.6" r="3.25" fill="url(#g5)"/>
<circle cx="151.2" cy="776.6" r="3.25" fill="#474747"/><circle cx="151.2" cy="776.6" r="3.25" fill="url(#g5)"/>
<circle cx="161.6" cy="768.2" r="3.25" fill="#474747"/><circle cx="161.6" cy="768.2" r="3.25" fill="url(#g5)"/>
<circle cx="175.2" cy="752.2" r="3.25" fill="#474747"/><circle cx="175.2" cy="752.2" r="3.25" fill="url(#g5)"/>
<circle cx="188" cy="728.6" r="3.25" fill="#474747"/><circle cx="188" cy="728.6" r="3.25" fill="url(#g5)"/>
<circle cx="198" cy="722.6" r="3.25" fill="#474747"/><circle cx="198" cy="722.6" r="3.25" fill="url(#g5)"/>
<circle cx="210.4" cy="715.4" r="3.25" fill="#474747"/><circle cx="210.4" cy="715.4" r="3.25" fill="url(#g5)"/>
<circle cx="223.6" cy="707.4" r="3.25" fill="#474747"/><circle cx="223.6" cy="707.4" r="3.25" fill="url(#g5)"/>
<circle cx="236" cy="700.2" r="3.25" fill="#474747"/><circle cx="236" cy="700.2" r="3.25" fill="url(#g5)"/>
<circle cx="250.4" cy="693" r="3.25" fill="#474747"/><circle cx="250.4" cy="693" r="3.25" fill="url(#g5)"/>
<circle cx="260" cy="687.8" r="3.25" fill="#474747"/><circle cx="260" cy="687.8" r="3.25" fill="url(#g5)"/>
<circle cx="275.2" cy="678.6" r="3.25" fill="#474747"/><circle cx="275.2" cy="678.6" r="3.25" fill="url(#g5)"/>
<circle cx="285.2" cy="672.2" r="3.25" fill="#474747"/><circle cx="285.2" cy="672.2" r="3.25" fill="url(#g5)"/>
<circle cx="297.2" cy="661.8" r="3.25" fill="#474747"/><circle cx="297.2" cy="661.8" r="3.25" fill="url(#g5)"/>
<rect x="43.5" y="627.1" width="282.8" height="246.9" fill="none" stroke="#000" stroke-width="1.6"/>
<line x1="38.7" y1="856.1" x2="43.5" y2="856.1" stroke="#000" stroke-width="1.2"/>
<line x1="38.7" y1="820.9" x2="43.5" y2="820.9" stroke="#000" stroke-width="1.2"/>
<line x1="38.7" y1="785.7" x2="43.5" y2="785.7" stroke="#000" stroke-width="1.2"/>
<line x1="38.7" y1="750.5" x2="43.5" y2="750.5" stroke="#000" stroke-width="1.2"/>
<line x1="38.7" y1="715.3" x2="43.5" y2="715.3" stroke="#000" stroke-width="1.2"/>
<line x1="38.7" y1="680.1" x2="43.5" y2="680.1" stroke="#000" stroke-width="1.2"/>
<line x1="38.7" y1="644.9" x2="43.5" y2="644.9" stroke="#000" stroke-width="1.2"/>
<line x1="40.7" y1="873.7" x2="43.5" y2="873.7" stroke="#000" stroke-width="1.2"/>
<line x1="40.7" y1="838.5" x2="43.5" y2="838.5" stroke="#000" stroke-width="1.2"/>
<line x1="40.7" y1="803.3" x2="43.5" y2="803.3" stroke="#000" stroke-width="1.2"/>
<line x1="40.7" y1="768.1" x2="43.5" y2="768.1" stroke="#000" stroke-width="1.2"/>
<line x1="40.7" y1="732.9" x2="43.5" y2="732.9" stroke="#000" stroke-width="1.2"/>
<line x1="40.7" y1="697.7" x2="43.5" y2="697.7" stroke="#000" stroke-width="1.2"/>
<line x1="40.7" y1="662.5" x2="43.5" y2="662.5" stroke="#000" stroke-width="1.2"/>
<line x1="40.7" y1="627.3" x2="43.5" y2="627.3" stroke="#000" stroke-width="1.2"/>
<text x="36.3" y="858.8" font-size="11.8" text-anchor="end" font-weight="bold" font-style="normal" fill="#000" textLength="12.2" lengthAdjust="spacingAndGlyphs">10</text>
<text x="36.3" y="823.6" font-size="11.8" text-anchor="end" font-weight="bold" font-style="normal" fill="#000" textLength="12.2" lengthAdjust="spacingAndGlyphs">11</text>
<text x="36.3" y="788.4" font-size="11.8" text-anchor="end" font-weight="bold" font-style="normal" fill="#000" textLength="12.2" lengthAdjust="spacingAndGlyphs">12</text>
<text x="36.3" y="753.2" font-size="11.8" text-anchor="end" font-weight="bold" font-style="normal" fill="#000" textLength="12.2" lengthAdjust="spacingAndGlyphs">13</text>
<text x="36.3" y="718" font-size="11.8" text-anchor="end" font-weight="bold" font-style="normal" fill="#000" textLength="12.2" lengthAdjust="spacingAndGlyphs">14</text>
<text x="36.3" y="682.8" font-size="11.8" text-anchor="end" font-weight="bold" font-style="normal" fill="#000" textLength="12.2" lengthAdjust="spacingAndGlyphs">15</text>
<text x="36.3" y="647.6" font-size="11.8" text-anchor="end" font-weight="bold" font-style="normal" fill="#000" textLength="12.2" lengthAdjust="spacingAndGlyphs">16</text>
<line x1="63.2" y1="874" x2="63.2" y2="878.8" stroke="#000" stroke-width="1.2"/>
<line x1="113.36" y1="874" x2="113.36" y2="878.8" stroke="#000" stroke-width="1.2"/>
<line x1="163.52" y1="874" x2="163.52" y2="878.8" stroke="#000" stroke-width="1.2"/>
<line x1="213.68" y1="874" x2="213.68" y2="878.8" stroke="#000" stroke-width="1.2"/>
<line x1="263.84" y1="874" x2="263.84" y2="878.8" stroke="#000" stroke-width="1.2"/>
<line x1="314" y1="874" x2="314" y2="878.8" stroke="#000" stroke-width="1.2"/>
<line x1="88.28" y1="874" x2="88.28" y2="876.8" stroke="#000" stroke-width="1.2"/>
<line x1="138.44" y1="874" x2="138.44" y2="876.8" stroke="#000" stroke-width="1.2"/>
<line x1="188.6" y1="874" x2="188.6" y2="876.8" stroke="#000" stroke-width="1.2"/>
<line x1="238.76" y1="874" x2="238.76" y2="876.8" stroke="#000" stroke-width="1.2"/>
<line x1="288.92" y1="874" x2="288.92" y2="876.8" stroke="#000" stroke-width="1.2"/>
<text x="63.2" y="890.1" font-size="11" text-anchor="middle" font-weight="bold" font-style="normal" fill="#000" textLength="17" lengthAdjust="spacingAndGlyphs">0.0</text>
<text x="113.36" y="890.1" font-size="11" text-anchor="middle" font-weight="bold" font-style="normal" fill="#000" textLength="17" lengthAdjust="spacingAndGlyphs">0.2</text>
<text x="163.52" y="890.1" font-size="11" text-anchor="middle" font-weight="bold" font-style="normal" fill="#000" textLength="17" lengthAdjust="spacingAndGlyphs">0.4</text>
<text x="213.68" y="890.1" font-size="11" text-anchor="middle" font-weight="bold" font-style="normal" fill="#000" textLength="17" lengthAdjust="spacingAndGlyphs">0.6</text>
<text x="263.84" y="890.1" font-size="11" text-anchor="middle" font-weight="bold" font-style="normal" fill="#000" textLength="17" lengthAdjust="spacingAndGlyphs">0.8</text>
<text x="314" y="890.1" font-size="11" text-anchor="middle" font-weight="bold" font-style="normal" fill="#000" textLength="17" lengthAdjust="spacingAndGlyphs">1.0</text>
<text x="116.7" y="917" font-size="13.5" font-weight="bold" textLength="137.8" lengthAdjust="spacingAndGlyphs">Relative Pressure (P/P<tspan font-size="9.5" dy="3.8">0</tspan><tspan dy="-3.8">)</tspan></text>
<text transform="translate(15,851) rotate(-90)" x="0" y="0" font-size="13.5" font-weight="bold" textLength="200.8" lengthAdjust="spacingAndGlyphs">Quantity adsorbed (cm<tspan font-size="9" dy="-5">3</tspan><tspan dy="5">g</tspan><tspan font-size="9" dy="-5">&#8722;1</tspan><tspan dy="5">/STP)</tspan></text>
<text x="51" y="649" font-size="12.8" text-anchor="start" font-weight="bold" font-style="italic" fill="#000" textLength="36.6" lengthAdjust="spacingAndGlyphs">AC5Fe</text>
<line x1="48" y1="671" x2="74.4" y2="671" stroke="#0c0ce8" stroke-width="1.2"/>
<line x1="48" y1="690.6" x2="74.4" y2="690.6" stroke="#333" stroke-width="1.2"/>
<circle cx="61.2" cy="671" r="3.25" fill="#1212ff"/><circle cx="61.2" cy="671" r="3.25" fill="url(#g4)"/>
<circle cx="61.2" cy="690.6" r="3.25" fill="#474747"/><circle cx="61.2" cy="690.6" r="3.25" fill="url(#g5)"/>
<text x="78" y="675.6" font-size="13" text-anchor="start" font-weight="bold" font-style="normal" fill="#1414e6" textLength="60.6" lengthAdjust="spacingAndGlyphs">Adsorption</text>
<text x="78" y="695.2" font-size="13" text-anchor="start" font-weight="bold" font-style="normal" fill="#444" textLength="60.6" lengthAdjust="spacingAndGlyphs">Desorption</text>
<polyline points="75,1149.8 85.4,1133.8 97.4,1121.8 109.8,1111 121.8,1101.4 134.2,1093.8 146.2,1085.8 158.2,1078.6 170.2,1071.4 182.2,1064.6 194.6,1057 206.6,1050.2 218.6,1043 230.2,1036.2 242.6,1028.6 254.6,1021.4 267,1013 279.4,1002.2 291,987.4 303.8,951" fill="none" stroke="#ee10ee" stroke-width="1.3" stroke-linejoin="round"/>
<polyline points="72.6,1154.6 85.4,1133.8 97,1121.8 109.4,1110.6 121.4,1101.4 135.4,1092.2 147,1085 157.4,1077.8 170.2,1064.6 181.4,1045 195.8,1036.6 205,1031.4 217.8,1024.2 229.8,1018.2 243.8,1011 253.4,1006.2 268.2,998.2 279,990.6 291,977.4" fill="none" stroke="#6e6e10" stroke-width="1.3" stroke-linejoin="round"/>
<circle cx="75" cy="1149.8" r="3.25" fill="#ff14ff"/><circle cx="75" cy="1149.8" r="3.25" fill="url(#g6)"/>
<circle cx="85.4" cy="1133.8" r="3.25" fill="#ff14ff"/><circle cx="85.4" cy="1133.8" r="3.25" fill="url(#g6)"/>
<circle cx="97.4" cy="1121.8" r="3.25" fill="#ff14ff"/><circle cx="97.4" cy="1121.8" r="3.25" fill="url(#g6)"/>
<circle cx="109.8" cy="1111" r="3.25" fill="#ff14ff"/><circle cx="109.8" cy="1111" r="3.25" fill="url(#g6)"/>
<circle cx="121.8" cy="1101.4" r="3.25" fill="#ff14ff"/><circle cx="121.8" cy="1101.4" r="3.25" fill="url(#g6)"/>
<circle cx="134.2" cy="1093.8" r="3.25" fill="#ff14ff"/><circle cx="134.2" cy="1093.8" r="3.25" fill="url(#g6)"/>
<circle cx="146.2" cy="1085.8" r="3.25" fill="#ff14ff"/><circle cx="146.2" cy="1085.8" r="3.25" fill="url(#g6)"/>
<circle cx="158.2" cy="1078.6" r="3.25" fill="#ff14ff"/><circle cx="158.2" cy="1078.6" r="3.25" fill="url(#g6)"/>
<circle cx="170.2" cy="1071.4" r="3.25" fill="#ff14ff"/><circle cx="170.2" cy="1071.4" r="3.25" fill="url(#g6)"/>
<circle cx="182.2" cy="1064.6" r="3.25" fill="#ff14ff"/><circle cx="182.2" cy="1064.6" r="3.25" fill="url(#g6)"/>
<circle cx="194.6" cy="1057" r="3.25" fill="#ff14ff"/><circle cx="194.6" cy="1057" r="3.25" fill="url(#g6)"/>
<circle cx="206.6" cy="1050.2" r="3.25" fill="#ff14ff"/><circle cx="206.6" cy="1050.2" r="3.25" fill="url(#g6)"/>
<circle cx="218.6" cy="1043" r="3.25" fill="#ff14ff"/><circle cx="218.6" cy="1043" r="3.25" fill="url(#g6)"/>
<circle cx="230.2" cy="1036.2" r="3.25" fill="#ff14ff"/><circle cx="230.2" cy="1036.2" r="3.25" fill="url(#g6)"/>
<circle cx="242.6" cy="1028.6" r="3.25" fill="#ff14ff"/><circle cx="242.6" cy="1028.6" r="3.25" fill="url(#g6)"/>
<circle cx="254.6" cy="1021.4" r="3.25" fill="#ff14ff"/><circle cx="254.6" cy="1021.4" r="3.25" fill="url(#g6)"/>
<circle cx="267" cy="1013" r="3.25" fill="#ff14ff"/><circle cx="267" cy="1013" r="3.25" fill="url(#g6)"/>
<circle cx="279.4" cy="1002.2" r="3.25" fill="#ff14ff"/><circle cx="279.4" cy="1002.2" r="3.25" fill="url(#g6)"/>
<circle cx="291" cy="987.4" r="3.25" fill="#ff14ff"/><circle cx="291" cy="987.4" r="3.25" fill="url(#g6)"/>
<circle cx="303.8" cy="951" r="3.25" fill="#ff14ff"/><circle cx="303.8" cy="951" r="3.25" fill="url(#g6)"/>
<circle cx="72.6" cy="1154.6" r="3.25" fill="#7e7e14"/><circle cx="72.6" cy="1154.6" r="3.25" fill="url(#g7)"/>
<circle cx="85.4" cy="1133.8" r="3.25" fill="#7e7e14"/><circle cx="85.4" cy="1133.8" r="3.25" fill="url(#g7)"/>
<circle cx="97" cy="1121.8" r="3.25" fill="#7e7e14"/><circle cx="97" cy="1121.8" r="3.25" fill="url(#g7)"/>
<circle cx="109.4" cy="1110.6" r="3.25" fill="#7e7e14"/><circle cx="109.4" cy="1110.6" r="3.25" fill="url(#g7)"/>
<circle cx="121.4" cy="1101.4" r="3.25" fill="#7e7e14"/><circle cx="121.4" cy="1101.4" r="3.25" fill="url(#g7)"/>
<circle cx="135.4" cy="1092.2" r="3.25" fill="#7e7e14"/><circle cx="135.4" cy="1092.2" r="3.25" fill="url(#g7)"/>
<circle cx="147" cy="1085" r="3.25" fill="#7e7e14"/><circle cx="147" cy="1085" r="3.25" fill="url(#g7)"/>
<circle cx="157.4" cy="1077.8" r="3.25" fill="#7e7e14"/><circle cx="157.4" cy="1077.8" r="3.25" fill="url(#g7)"/>
<circle cx="170.2" cy="1064.6" r="3.25" fill="#7e7e14"/><circle cx="170.2" cy="1064.6" r="3.25" fill="url(#g7)"/>
<circle cx="181.4" cy="1045" r="3.25" fill="#7e7e14"/><circle cx="181.4" cy="1045" r="3.25" fill="url(#g7)"/>
<circle cx="195.8" cy="1036.6" r="3.25" fill="#7e7e14"/><circle cx="195.8" cy="1036.6" r="3.25" fill="url(#g7)"/>
<circle cx="205" cy="1031.4" r="3.25" fill="#7e7e14"/><circle cx="205" cy="1031.4" r="3.25" fill="url(#g7)"/>
<circle cx="217.8" cy="1024.2" r="3.25" fill="#7e7e14"/><circle cx="217.8" cy="1024.2" r="3.25" fill="url(#g7)"/>
<circle cx="229.8" cy="1018.2" r="3.25" fill="#7e7e14"/><circle cx="229.8" cy="1018.2" r="3.25" fill="url(#g7)"/>
<circle cx="243.8" cy="1011" r="3.25" fill="#7e7e14"/><circle cx="243.8" cy="1011" r="3.25" fill="url(#g7)"/>
<circle cx="253.4" cy="1006.2" r="3.25" fill="#7e7e14"/><circle cx="253.4" cy="1006.2" r="3.25" fill="url(#g7)"/>
<circle cx="268.2" cy="998.2" r="3.25" fill="#7e7e14"/><circle cx="268.2" cy="998.2" r="3.25" fill="url(#g7)"/>
<circle cx="279" cy="990.6" r="3.25" fill="#7e7e14"/><circle cx="279" cy="990.6" r="3.25" fill="url(#g7)"/>
<circle cx="291" cy="977.4" r="3.25" fill="#7e7e14"/><circle cx="291" cy="977.4" r="3.25" fill="url(#g7)"/>
<rect x="42.9" y="931.8" width="283" height="246.05" fill="none" stroke="#000" stroke-width="1.6"/>
<line x1="38.1" y1="1160.22" x2="42.9" y2="1160.22" stroke="#000" stroke-width="1.2"/>
<line x1="38.1" y1="1125" x2="42.9" y2="1125" stroke="#000" stroke-width="1.2"/>
<line x1="38.1" y1="1089.78" x2="42.9" y2="1089.78" stroke="#000" stroke-width="1.2"/>
<line x1="38.1" y1="1054.56" x2="42.9" y2="1054.56" stroke="#000" stroke-width="1.2"/>
<line x1="38.1" y1="1019.34" x2="42.9" y2="1019.34" stroke="#000" stroke-width="1.2"/>
<line x1="38.1" y1="984.12" x2="42.9" y2="984.12" stroke="#000" stroke-width="1.2"/>
<line x1="38.1" y1="948.9" x2="42.9" y2="948.9" stroke="#000" stroke-width="1.2"/>
<line x1="40.1" y1="1177.83" x2="42.9" y2="1177.83" stroke="#000" stroke-width="1.2"/>
<line x1="40.1" y1="1142.61" x2="42.9" y2="1142.61" stroke="#000" stroke-width="1.2"/>
<line x1="40.1" y1="1107.39" x2="42.9" y2="1107.39" stroke="#000" stroke-width="1.2"/>
<line x1="40.1" y1="1072.17" x2="42.9" y2="1072.17" stroke="#000" stroke-width="1.2"/>
<line x1="40.1" y1="1036.95" x2="42.9" y2="1036.95" stroke="#000" stroke-width="1.2"/>
<line x1="40.1" y1="1001.73" x2="42.9" y2="1001.73" stroke="#000" stroke-width="1.2"/>
<line x1="40.1" y1="966.51" x2="42.9" y2="966.51" stroke="#000" stroke-width="1.2"/>
<line x1="40.1" y1="931.29" x2="42.9" y2="931.29" stroke="#000" stroke-width="1.2"/>
<text x="34.3" y="1162.82" font-size="11.4" text-anchor="end" font-weight="bold" font-style="normal" fill="#000" textLength="5.5" lengthAdjust="spacingAndGlyphs">8</text>
<text x="34.3" y="1127.6" font-size="11.4" text-anchor="end" font-weight="bold" font-style="normal" fill="#000" textLength="5.5" lengthAdjust="spacingAndGlyphs">9</text>
<text x="34.3" y="1092.38" font-size="11.4" text-anchor="end" font-weight="bold" font-style="normal" fill="#000" textLength="11" lengthAdjust="spacingAndGlyphs">10</text>
<text x="34.3" y="1057.16" font-size="11.4" text-anchor="end" font-weight="bold" font-style="normal" fill="#000" textLength="11" lengthAdjust="spacingAndGlyphs">11</text>
<text x="34.3" y="1021.94" font-size="11.4" text-anchor="end" font-weight="bold" font-style="normal" fill="#000" textLength="11" lengthAdjust="spacingAndGlyphs">12</text>
<text x="34.3" y="986.72" font-size="11.4" text-anchor="end" font-weight="bold" font-style="normal" fill="#000" textLength="11" lengthAdjust="spacingAndGlyphs">13</text>
<text x="34.3" y="951.5" font-size="11.4" text-anchor="end" font-weight="bold" font-style="normal" fill="#000" textLength="11" lengthAdjust="spacingAndGlyphs">14</text>
<line x1="61.9" y1="1177.85" x2="61.9" y2="1182.65" stroke="#000" stroke-width="1.2"/>
<line x1="110.74" y1="1177.85" x2="110.74" y2="1182.65" stroke="#000" stroke-width="1.2"/>
<line x1="159.58" y1="1177.85" x2="159.58" y2="1182.65" stroke="#000" stroke-width="1.2"/>
<line x1="208.42" y1="1177.85" x2="208.42" y2="1182.65" stroke="#000" stroke-width="1.2"/>
<line x1="257.26" y1="1177.85" x2="257.26" y2="1182.65" stroke="#000" stroke-width="1.2"/>
<line x1="306.1" y1="1177.85" x2="306.1" y2="1182.65" stroke="#000" stroke-width="1.2"/>
<line x1="86.32" y1="1177.85" x2="86.32" y2="1180.65" stroke="#000" stroke-width="1.2"/>
<line x1="135.16" y1="1177.85" x2="135.16" y2="1180.65" stroke="#000" stroke-width="1.2"/>
<line x1="184" y1="1177.85" x2="184" y2="1180.65" stroke="#000" stroke-width="1.2"/>
<line x1="232.84" y1="1177.85" x2="232.84" y2="1180.65" stroke="#000" stroke-width="1.2"/>
<line x1="281.68" y1="1177.85" x2="281.68" y2="1180.65" stroke="#000" stroke-width="1.2"/>
<text x="61.9" y="1193.4" font-size="11" text-anchor="middle" font-weight="bold" font-style="normal" fill="#000" textLength="17" lengthAdjust="spacingAndGlyphs">0.0</text>
<text x="110.74" y="1193.4" font-size="11" text-anchor="middle" font-weight="bold" font-style="normal" fill="#000" textLength="17" lengthAdjust="spacingAndGlyphs">0.2</text>
<text x="159.58" y="1193.4" font-size="11" text-anchor="middle" font-weight="bold" font-style="normal" fill="#000" textLength="17" lengthAdjust="spacingAndGlyphs">0.4</text>
<text x="208.42" y="1193.4" font-size="11" text-anchor="middle" font-weight="bold" font-style="normal" fill="#000" textLength="17" lengthAdjust="spacingAndGlyphs">0.6</text>
<text x="257.26" y="1193.4" font-size="11" text-anchor="middle" font-weight="bold" font-style="normal" fill="#000" textLength="17" lengthAdjust="spacingAndGlyphs">0.8</text>
<text x="306.1" y="1193.4" font-size="11" text-anchor="middle" font-weight="bold" font-style="normal" fill="#000" textLength="17" lengthAdjust="spacingAndGlyphs">1.0</text>
<text x="105.8" y="1215.8" font-size="13.5" font-weight="bold" textLength="137.7" lengthAdjust="spacingAndGlyphs">Relative Pressure (P/P<tspan font-size="9.5" dy="3.8">0</tspan><tspan dy="-3.8">)</tspan></text>
<text transform="translate(15,1153.3) rotate(-90)" x="0" y="0" font-size="13.5" font-weight="bold" textLength="200" lengthAdjust="spacingAndGlyphs">Quantity adsorbed (cm<tspan font-size="9" dy="-5">3</tspan><tspan dy="5">g</tspan><tspan font-size="9" dy="-5">&#8722;1</tspan><tspan dy="5">/STP)</tspan></text>
<text x="59" y="950.6" font-size="12.8" text-anchor="start" font-weight="bold" font-style="italic" fill="#000" textLength="36" lengthAdjust="spacingAndGlyphs">AC7Fe</text>
<line x1="52.4" y1="973.6" x2="79" y2="973.6" stroke="#ee10ee" stroke-width="1.2"/>
<line x1="52.4" y1="994" x2="79" y2="994" stroke="#6e6e10" stroke-width="1.2"/>
<circle cx="65.7" cy="973.6" r="3.25" fill="#ff14ff"/><circle cx="65.7" cy="973.6" r="3.25" fill="url(#g6)"/>
<circle cx="65.7" cy="994" r="3.25" fill="#7e7e14"/><circle cx="65.7" cy="994" r="3.25" fill="url(#g7)"/>
<text x="83" y="978.2" font-size="13" text-anchor="start" font-weight="bold" font-style="normal" fill="#000" textLength="60.6" lengthAdjust="spacingAndGlyphs">Adsorption</text>
<text x="83" y="998.6" font-size="13" text-anchor="start" font-weight="bold" font-style="normal" fill="#000" textLength="60.6" lengthAdjust="spacingAndGlyphs">Desorption</text>
<polyline points="77.8,1466.8 85.8,1453.2 99,1437.2 110.6,1426.4 123,1415.6 134.6,1406.4 147,1398 159,1389.2 171.4,1380.4 183,1372 195.4,1364 207.4,1354.8 219.4,1346.4 231.4,1337.6 243.4,1329.6 255.4,1320.8 267.4,1310.8 279.4,1299.2 291.8,1283.2 304.6,1256" fill="none" stroke="#22e822" stroke-width="1.3" stroke-linejoin="round"/>
<polyline points="75,1465.6 86.2,1447.2 98.6,1433.2 110.6,1422 123,1412 136.6,1401.6 147,1393.6 160.2,1383.2 172.6,1365.2 182.2,1344.8 196.2,1335.2 206.6,1328 220.6,1319.6 230.6,1313.6 245,1306 254.2,1300.4 269,1292 279.8,1285.2 292.6,1274.4" fill="none" stroke="#701070" stroke-width="1.3" stroke-linejoin="round"/>
<circle cx="77.8" cy="1466.8" r="3.25" fill="#22ff22"/><circle cx="77.8" cy="1466.8" r="3.25" fill="url(#g8)"/>
<circle cx="85.8" cy="1453.2" r="3.25" fill="#22ff22"/><circle cx="85.8" cy="1453.2" r="3.25" fill="url(#g8)"/>
<circle cx="99" cy="1437.2" r="3.25" fill="#22ff22"/><circle cx="99" cy="1437.2" r="3.25" fill="url(#g8)"/>
<circle cx="110.6" cy="1426.4" r="3.25" fill="#22ff22"/><circle cx="110.6" cy="1426.4" r="3.25" fill="url(#g8)"/>
<circle cx="123" cy="1415.6" r="3.25" fill="#22ff22"/><circle cx="123" cy="1415.6" r="3.25" fill="url(#g8)"/>
<circle cx="134.6" cy="1406.4" r="3.25" fill="#22ff22"/><circle cx="134.6" cy="1406.4" r="3.25" fill="url(#g8)"/>
<circle cx="147" cy="1398" r="3.25" fill="#22ff22"/><circle cx="147" cy="1398" r="3.25" fill="url(#g8)"/>
<circle cx="159" cy="1389.2" r="3.25" fill="#22ff22"/><circle cx="159" cy="1389.2" r="3.25" fill="url(#g8)"/>
<circle cx="171.4" cy="1380.4" r="3.25" fill="#22ff22"/><circle cx="171.4" cy="1380.4" r="3.25" fill="url(#g8)"/>
<circle cx="183" cy="1372" r="3.25" fill="#22ff22"/><circle cx="183" cy="1372" r="3.25" fill="url(#g8)"/>
<circle cx="195.4" cy="1364" r="3.25" fill="#22ff22"/><circle cx="195.4" cy="1364" r="3.25" fill="url(#g8)"/>
<circle cx="207.4" cy="1354.8" r="3.25" fill="#22ff22"/><circle cx="207.4" cy="1354.8" r="3.25" fill="url(#g8)"/>
<circle cx="219.4" cy="1346.4" r="3.25" fill="#22ff22"/><circle cx="219.4" cy="1346.4" r="3.25" fill="url(#g8)"/>
<circle cx="231.4" cy="1337.6" r="3.25" fill="#22ff22"/><circle cx="231.4" cy="1337.6" r="3.25" fill="url(#g8)"/>
<circle cx="243.4" cy="1329.6" r="3.25" fill="#22ff22"/><circle cx="243.4" cy="1329.6" r="3.25" fill="url(#g8)"/>
<circle cx="255.4" cy="1320.8" r="3.25" fill="#22ff22"/><circle cx="255.4" cy="1320.8" r="3.25" fill="url(#g8)"/>
<circle cx="267.4" cy="1310.8" r="3.25" fill="#22ff22"/><circle cx="267.4" cy="1310.8" r="3.25" fill="url(#g8)"/>
<circle cx="279.4" cy="1299.2" r="3.25" fill="#22ff22"/><circle cx="279.4" cy="1299.2" r="3.25" fill="url(#g8)"/>
<circle cx="291.8" cy="1283.2" r="3.25" fill="#22ff22"/><circle cx="291.8" cy="1283.2" r="3.25" fill="url(#g8)"/>
<circle cx="304.6" cy="1256" r="3.25" fill="#22ff22"/><circle cx="304.6" cy="1256" r="3.25" fill="url(#g8)"/>
<circle cx="75" cy="1465.6" r="3.25" fill="#7a147a"/><circle cx="75" cy="1465.6" r="3.25" fill="url(#g9)"/>
<circle cx="86.2" cy="1447.2" r="3.25" fill="#7a147a"/><circle cx="86.2" cy="1447.2" r="3.25" fill="url(#g9)"/>
<circle cx="98.6" cy="1433.2" r="3.25" fill="#7a147a"/><circle cx="98.6" cy="1433.2" r="3.25" fill="url(#g9)"/>
<circle cx="110.6" cy="1422" r="3.25" fill="#7a147a"/><circle cx="110.6" cy="1422" r="3.25" fill="url(#g9)"/>
<circle cx="123" cy="1412" r="3.25" fill="#7a147a"/><circle cx="123" cy="1412" r="3.25" fill="url(#g9)"/>
<circle cx="136.6" cy="1401.6" r="3.25" fill="#7a147a"/><circle cx="136.6" cy="1401.6" r="3.25" fill="url(#g9)"/>
<circle cx="147" cy="1393.6" r="3.25" fill="#7a147a"/><circle cx="147" cy="1393.6" r="3.25" fill="url(#g9)"/>
<circle cx="160.2" cy="1383.2" r="3.25" fill="#7a147a"/><circle cx="160.2" cy="1383.2" r="3.25" fill="url(#g9)"/>
<circle cx="172.6" cy="1365.2" r="3.25" fill="#7a147a"/><circle cx="172.6" cy="1365.2" r="3.25" fill="url(#g9)"/>
<circle cx="182.2" cy="1344.8" r="3.25" fill="#7a147a"/><circle cx="182.2" cy="1344.8" r="3.25" fill="url(#g9)"/>
<circle cx="196.2" cy="1335.2" r="3.25" fill="#7a147a"/><circle cx="196.2" cy="1335.2" r="3.25" fill="url(#g9)"/>
<circle cx="206.6" cy="1328" r="3.25" fill="#7a147a"/><circle cx="206.6" cy="1328" r="3.25" fill="url(#g9)"/>
<circle cx="220.6" cy="1319.6" r="3.25" fill="#7a147a"/><circle cx="220.6" cy="1319.6" r="3.25" fill="url(#g9)"/>
<circle cx="230.6" cy="1313.6" r="3.25" fill="#7a147a"/><circle cx="230.6" cy="1313.6" r="3.25" fill="url(#g9)"/>
<circle cx="245" cy="1306" r="3.25" fill="#7a147a"/><circle cx="245" cy="1306" r="3.25" fill="url(#g9)"/>
<circle cx="254.2" cy="1300.4" r="3.25" fill="#7a147a"/><circle cx="254.2" cy="1300.4" r="3.25" fill="url(#g9)"/>
<circle cx="269" cy="1292" r="3.25" fill="#7a147a"/><circle cx="269" cy="1292" r="3.25" fill="url(#g9)"/>
<circle cx="279.8" cy="1285.2" r="3.25" fill="#7a147a"/><circle cx="279.8" cy="1285.2" r="3.25" fill="url(#g9)"/>
<circle cx="292.6" cy="1274.4" r="3.25" fill="#7a147a"/><circle cx="292.6" cy="1274.4" r="3.25" fill="url(#g9)"/>
<rect x="43.45" y="1238.1" width="282.85" height="247.1" fill="none" stroke="#000" stroke-width="1.6"/>
<line x1="38.65" y1="1485.2" x2="43.45" y2="1485.2" stroke="#000" stroke-width="1.2"/>
<line x1="38.65" y1="1460.49" x2="43.45" y2="1460.49" stroke="#000" stroke-width="1.2"/>
<line x1="38.65" y1="1435.78" x2="43.45" y2="1435.78" stroke="#000" stroke-width="1.2"/>
<line x1="38.65" y1="1411.07" x2="43.45" y2="1411.07" stroke="#000" stroke-width="1.2"/>
<line x1="38.65" y1="1386.36" x2="43.45" y2="1386.36" stroke="#000" stroke-width="1.2"/>
<line x1="38.65" y1="1361.65" x2="43.45" y2="1361.65" stroke="#000" stroke-width="1.2"/>
<line x1="38.65" y1="1336.94" x2="43.45" y2="1336.94" stroke="#000" stroke-width="1.2"/>
<line x1="38.65" y1="1312.23" x2="43.45" y2="1312.23" stroke="#000" stroke-width="1.2"/>
<line x1="38.65" y1="1287.52" x2="43.45" y2="1287.52" stroke="#000" stroke-width="1.2"/>
<line x1="38.65" y1="1262.81" x2="43.45" y2="1262.81" stroke="#000" stroke-width="1.2"/>
<line x1="38.65" y1="1238.1" x2="43.45" y2="1238.1" stroke="#000" stroke-width="1.2"/>
<line x1="40.65" y1="1472.84" x2="43.45" y2="1472.84" stroke="#000" stroke-width="1.2"/>
<line x1="40.65" y1="1448.13" x2="43.45" y2="1448.13" stroke="#000" stroke-width="1.2"/>
<line x1="40.65" y1="1423.42" x2="43.45" y2="1423.42" stroke="#000" stroke-width="1.2"/>
<line x1="40.65" y1="1398.71" x2="43.45" y2="1398.71" stroke="#000" stroke-width="1.2"/>
<line x1="40.65" y1="1374" x2="43.45" y2="1374" stroke="#000" stroke-width="1.2"/>
<line x1="40.65" y1="1349.29" x2="43.45" y2="1349.29" stroke="#000" stroke-width="1.2"/>
<line x1="40.65" y1="1324.58" x2="43.45" y2="1324.58" stroke="#000" stroke-width="1.2"/>
<line x1="40.65" y1="1299.88" x2="43.45" y2="1299.88" stroke="#000" stroke-width="1.2"/>
<line x1="40.65" y1="1275.16" x2="43.45" y2="1275.16" stroke="#000" stroke-width="1.2"/>
<line x1="40.65" y1="1250.45" x2="43.45" y2="1250.45" stroke="#000" stroke-width="1.2"/>
<text x="36.25" y="1487.9" font-size="11.8" text-anchor="end" font-weight="bold" font-style="normal" fill="#000" textLength="12.2" lengthAdjust="spacingAndGlyphs">30</text>
<text x="36.25" y="1463.19" font-size="11.8" text-anchor="end" font-weight="bold" font-style="normal" fill="#000" textLength="12.2" lengthAdjust="spacingAndGlyphs">32</text>
<text x="36.25" y="1438.48" font-size="11.8" text-anchor="end" font-weight="bold" font-style="normal" fill="#000" textLength="12.2" lengthAdjust="spacingAndGlyphs">34</text>
<text x="36.25" y="1413.77" font-size="11.8" text-anchor="end" font-weight="bold" font-style="normal" fill="#000" textLength="12.2" lengthAdjust="spacingAndGlyphs">36</text>
<text x="36.25" y="1389.06" font-size="11.8" text-anchor="end" font-weight="bold" font-style="normal" fill="#000" textLength="12.2" lengthAdjust="spacingAndGlyphs">38</text>
<text x="36.25" y="1364.35" font-size="11.8" text-anchor="end" font-weight="bold" font-style="normal" fill="#000" textLength="12.2" lengthAdjust="spacingAndGlyphs">40</text>
<text x="36.25" y="1339.64" font-size="11.8" text-anchor="end" font-weight="bold" font-style="normal" fill="#000" textLength="12.2" lengthAdjust="spacingAndGlyphs">42</text>
<text x="36.25" y="1314.93" font-size="11.8" text-anchor="end" font-weight="bold" font-style="normal" fill="#000" textLength="12.2" lengthAdjust="spacingAndGlyphs">44</text>
<text x="36.25" y="1290.22" font-size="11.8" text-anchor="end" font-weight="bold" font-style="normal" fill="#000" textLength="12.2" lengthAdjust="spacingAndGlyphs">46</text>
<text x="36.25" y="1265.51" font-size="11.8" text-anchor="end" font-weight="bold" font-style="normal" fill="#000" textLength="12.2" lengthAdjust="spacingAndGlyphs">48</text>
<text x="36.25" y="1240.8" font-size="11.8" text-anchor="end" font-weight="bold" font-style="normal" fill="#000" textLength="12.2" lengthAdjust="spacingAndGlyphs">50</text>
<line x1="62.6" y1="1485.2" x2="62.6" y2="1490" stroke="#000" stroke-width="1.2"/>
<line x1="111.46" y1="1485.2" x2="111.46" y2="1490" stroke="#000" stroke-width="1.2"/>
<line x1="160.32" y1="1485.2" x2="160.32" y2="1490" stroke="#000" stroke-width="1.2"/>
<line x1="209.18" y1="1485.2" x2="209.18" y2="1490" stroke="#000" stroke-width="1.2"/>
<line x1="258.04" y1="1485.2" x2="258.04" y2="1490" stroke="#000" stroke-width="1.2"/>
<line x1="306.9" y1="1485.2" x2="306.9" y2="1490" stroke="#000" stroke-width="1.2"/>
<line x1="87.03" y1="1485.2" x2="87.03" y2="1488" stroke="#000" stroke-width="1.2"/>
<line x1="135.89" y1="1485.2" x2="135.89" y2="1488" stroke="#000" stroke-width="1.2"/>
<line x1="184.75" y1="1485.2" x2="184.75" y2="1488" stroke="#000" stroke-width="1.2"/>
<line x1="233.61" y1="1485.2" x2="233.61" y2="1488" stroke="#000" stroke-width="1.2"/>
<line x1="282.47" y1="1485.2" x2="282.47" y2="1488" stroke="#000" stroke-width="1.2"/>
<text x="62.6" y="1500.7" font-size="11" text-anchor="middle" font-weight="bold" font-style="normal" fill="#000" textLength="17" lengthAdjust="spacingAndGlyphs">0.0</text>
<text x="111.46" y="1500.7" font-size="11" text-anchor="middle" font-weight="bold" font-style="normal" fill="#000" textLength="17" lengthAdjust="spacingAndGlyphs">0.2</text>
<text x="160.32" y="1500.7" font-size="11" text-anchor="middle" font-weight="bold" font-style="normal" fill="#000" textLength="17" lengthAdjust="spacingAndGlyphs">0.4</text>
<text x="209.18" y="1500.7" font-size="11" text-anchor="middle" font-weight="bold" font-style="normal" fill="#000" textLength="17" lengthAdjust="spacingAndGlyphs">0.6</text>
<text x="258.04" y="1500.7" font-size="11" text-anchor="middle" font-weight="bold" font-style="normal" fill="#000" textLength="17" lengthAdjust="spacingAndGlyphs">0.8</text>
<text x="306.9" y="1500.7" font-size="11" text-anchor="middle" font-weight="bold" font-style="normal" fill="#000" textLength="17" lengthAdjust="spacingAndGlyphs">1.0</text>
<text x="112.1" y="1524.6" font-size="13.5" font-weight="bold" textLength="138.1" lengthAdjust="spacingAndGlyphs">Relative Pressure (P/P<tspan font-size="9.5" dy="3.8">0</tspan><tspan dy="-3.8">)</tspan></text>
<text transform="translate(13.5,1467.5) rotate(-90)" x="0" y="0" font-size="13.5" font-weight="bold" textLength="200.8" lengthAdjust="spacingAndGlyphs">Quantity adsorbed (cm<tspan font-size="9" dy="-5">3</tspan><tspan dy="5">g</tspan><tspan font-size="9" dy="-5">&#8722;1</tspan><tspan dy="5">/STP)</tspan></text>
<text x="58" y="1256.6" font-size="12.8" text-anchor="start" font-weight="bold" font-style="italic" fill="#000" textLength="22" lengthAdjust="spacingAndGlyphs">AC3</text>
<line x1="52.4" y1="1275.6" x2="78" y2="1275.6" stroke="#22e822" stroke-width="1.2"/>
<line x1="52.4" y1="1295.4" x2="78" y2="1295.4" stroke="#701070" stroke-width="1.2"/>
<circle cx="65.2" cy="1275.6" r="3.25" fill="#22ff22"/><circle cx="65.2" cy="1275.6" r="3.25" fill="url(#g8)"/>
<circle cx="65.2" cy="1295.4" r="3.25" fill="#7a147a"/><circle cx="65.2" cy="1295.4" r="3.25" fill="url(#g9)"/>
<text x="82.4" y="1280.2" font-size="13" text-anchor="start" font-weight="bold" font-style="normal" fill="#2ee62e" textLength="60.6" lengthAdjust="spacingAndGlyphs">Adsorption</text>
<text x="82.4" y="1300" font-size="13" text-anchor="start" font-weight="bold" font-style="normal" fill="#7a127a" textLength="60.6" lengthAdjust="spacingAndGlyphs">Desorption</text>
<polyline points="429.9,130.3 442.5,16.9 457.4,194.6 474.8,209.7 495.6,218.7 521.2,226.6 545,230.9 557.3,233.3 575.7,236.6 607.3,240.1 630.8,240.7 651.3,241.7 677,242.5" fill="none" stroke="#000" stroke-width="1.55" stroke-linejoin="round"/>
<rect x="396.2" y="2.55" width="280.9" height="244.7" fill="none" stroke="#000" stroke-width="1.6"/>
<line x1="391.4" y1="212.9" x2="396.2" y2="212.9" stroke="#000" stroke-width="1.2"/>
<line x1="391.4" y1="178.36" x2="396.2" y2="178.36" stroke="#000" stroke-width="1.2"/>
<line x1="391.4" y1="143.82" x2="396.2" y2="143.82" stroke="#000" stroke-width="1.2"/>
<line x1="391.4" y1="109.28" x2="396.2" y2="109.28" stroke="#000" stroke-width="1.2"/>
<line x1="391.4" y1="74.74" x2="396.2" y2="74.74" stroke="#000" stroke-width="1.2"/>
<line x1="391.4" y1="40.2" x2="396.2" y2="40.2" stroke="#000" stroke-width="1.2"/>
<line x1="391.4" y1="5.66" x2="396.2" y2="5.66" stroke="#000" stroke-width="1.2"/>
<line x1="393.4" y1="230.17" x2="396.2" y2="230.17" stroke="#000" stroke-width="1.2"/>
<line x1="393.4" y1="195.63" x2="396.2" y2="195.63" stroke="#000" stroke-width="1.2"/>
<line x1="393.4" y1="161.09" x2="396.2" y2="161.09" stroke="#000" stroke-width="1.2"/>
<line x1="393.4" y1="126.55" x2="396.2" y2="126.55" stroke="#000" stroke-width="1.2"/>
<line x1="393.4" y1="92.01" x2="396.2" y2="92.01" stroke="#000" stroke-width="1.2"/>
<line x1="393.4" y1="57.47" x2="396.2" y2="57.47" stroke="#000" stroke-width="1.2"/>
<line x1="393.4" y1="22.93" x2="396.2" y2="22.93" stroke="#000" stroke-width="1.2"/>
<text x="389.4" y="215.55" font-size="10.8" text-anchor="end" font-weight="bold" font-style="normal" fill="#000" textLength="23.6" lengthAdjust="spacingAndGlyphs">0.02</text>
<text x="389.4" y="181.01" font-size="10.8" text-anchor="end" font-weight="bold" font-style="normal" fill="#000" textLength="23.6" lengthAdjust="spacingAndGlyphs">0.04</text>
<text x="389.4" y="146.47" font-size="10.8" text-anchor="end" font-weight="bold" font-style="normal" fill="#000" textLength="23.6" lengthAdjust="spacingAndGlyphs">0.06</text>
<text x="389.4" y="111.93" font-size="10.8" text-anchor="end" font-weight="bold" font-style="normal" fill="#000" textLength="23.6" lengthAdjust="spacingAndGlyphs">0.08</text>
<text x="389.4" y="77.39" font-size="10.8" text-anchor="end" font-weight="bold" font-style="normal" fill="#000" textLength="23.6" lengthAdjust="spacingAndGlyphs">0.10</text>
<text x="389.4" y="42.85" font-size="10.8" text-anchor="end" font-weight="bold" font-style="normal" fill="#000" textLength="23.6" lengthAdjust="spacingAndGlyphs">0.12</text>
<text x="389.4" y="8.31" font-size="10.8" text-anchor="end" font-weight="bold" font-style="normal" fill="#000" textLength="23.6" lengthAdjust="spacingAndGlyphs">0.14</text>
<line x1="450.3" y1="247.25" x2="450.3" y2="252.05" stroke="#000" stroke-width="1.2"/>
<line x1="511.6" y1="247.25" x2="511.6" y2="252.05" stroke="#000" stroke-width="1.2"/>
<line x1="572.9" y1="247.25" x2="572.9" y2="252.05" stroke="#000" stroke-width="1.2"/>
<line x1="634.2" y1="247.25" x2="634.2" y2="252.05" stroke="#000" stroke-width="1.2"/>
<line x1="419.65" y1="247.25" x2="419.65" y2="250.05" stroke="#000" stroke-width="1.2"/>
<line x1="480.95" y1="247.25" x2="480.95" y2="250.05" stroke="#000" stroke-width="1.2"/>
<line x1="542.25" y1="247.25" x2="542.25" y2="250.05" stroke="#000" stroke-width="1.2"/>
<line x1="603.55" y1="247.25" x2="603.55" y2="250.05" stroke="#000" stroke-width="1.2"/>
<line x1="664.85" y1="247.25" x2="664.85" y2="250.05" stroke="#000" stroke-width="1.2"/>
<text x="450.3" y="263" font-size="10.5" text-anchor="middle" font-weight="bold" font-style="normal" fill="#000">2</text>
<text x="511.6" y="263" font-size="10.5" text-anchor="middle" font-weight="bold" font-style="normal" fill="#000">3</text>
<text x="572.9" y="263" font-size="10.5" text-anchor="middle" font-weight="bold" font-style="normal" fill="#000">4</text>
<text x="634.2" y="263" font-size="10.5" text-anchor="middle" font-weight="bold" font-style="normal" fill="#000">5</text>
<text x="495.6" y="280.9" font-size="13.5" text-anchor="start" font-weight="bold" font-style="normal" fill="#000" textLength="82.5" lengthAdjust="spacingAndGlyphs">Pore size (nm)</text>
<text transform="translate(354,199.4) rotate(-90)" x="0" y="0" font-size="13" font-weight="bold" textLength="71.8" lengthAdjust="spacingAndGlyphs">Pore volume</text>
<text transform="translate(354,121.2) rotate(-90)" x="0" y="0" font-size="13" font-weight="bold" textLength="87.4" lengthAdjust="spacingAndGlyphs">(cm<tspan font-size="9.5" dy="-6">3</tspan><tspan dy="6"> g</tspan><tspan font-size="9.5" dy="-6">&#8722;1</tspan><tspan dy="6"> nm</tspan><tspan font-size="9.5" dy="-6">&#8722;1</tspan><tspan dy="6">)</tspan></text>
<text x="641" y="23.8" font-size="13" text-anchor="start" font-weight="bold" font-style="italic" fill="#000" textLength="17.8" lengthAdjust="spacingAndGlyphs">AC</text>
<polyline points="454.6,407 466.6,326.4 474,420 480.6,510 498,523.6 520,535 547.6,544.6 566,547.6 584,551 608,553.6 642,557 680,558" fill="none" stroke="#000" stroke-width="1.55" stroke-linejoin="round"/>
<rect x="398.05" y="316.75" width="282" height="244.6" fill="none" stroke="#000" stroke-width="1.6"/>
<line x1="393.25" y1="535.02" x2="398.05" y2="535.02" stroke="#000" stroke-width="1.2"/>
<line x1="393.25" y1="504.26" x2="398.05" y2="504.26" stroke="#000" stroke-width="1.2"/>
<line x1="393.25" y1="473.5" x2="398.05" y2="473.5" stroke="#000" stroke-width="1.2"/>
<line x1="393.25" y1="442.74" x2="398.05" y2="442.74" stroke="#000" stroke-width="1.2"/>
<line x1="393.25" y1="411.98" x2="398.05" y2="411.98" stroke="#000" stroke-width="1.2"/>
<line x1="393.25" y1="381.22" x2="398.05" y2="381.22" stroke="#000" stroke-width="1.2"/>
<line x1="393.25" y1="350.46" x2="398.05" y2="350.46" stroke="#000" stroke-width="1.2"/>
<line x1="393.25" y1="319.7" x2="398.05" y2="319.7" stroke="#000" stroke-width="1.2"/>
<line x1="395.25" y1="550.4" x2="398.05" y2="550.4" stroke="#000" stroke-width="1.2"/>
<line x1="395.25" y1="519.64" x2="398.05" y2="519.64" stroke="#000" stroke-width="1.2"/>
<line x1="395.25" y1="488.88" x2="398.05" y2="488.88" stroke="#000" stroke-width="1.2"/>
<line x1="395.25" y1="458.12" x2="398.05" y2="458.12" stroke="#000" stroke-width="1.2"/>
<line x1="395.25" y1="427.36" x2="398.05" y2="427.36" stroke="#000" stroke-width="1.2"/>
<line x1="395.25" y1="396.6" x2="398.05" y2="396.6" stroke="#000" stroke-width="1.2"/>
<line x1="395.25" y1="365.84" x2="398.05" y2="365.84" stroke="#000" stroke-width="1.2"/>
<line x1="395.25" y1="335.08" x2="398.05" y2="335.08" stroke="#000" stroke-width="1.2"/>
<text x="391.25" y="537.67" font-size="10.8" text-anchor="end" font-weight="bold" font-style="normal" fill="#000" textLength="23.6" lengthAdjust="spacingAndGlyphs">0.02</text>
<text x="391.25" y="506.91" font-size="10.8" text-anchor="end" font-weight="bold" font-style="normal" fill="#000" textLength="23.6" lengthAdjust="spacingAndGlyphs">0.04</text>
<text x="391.25" y="476.15" font-size="10.8" text-anchor="end" font-weight="bold" font-style="normal" fill="#000" textLength="23.6" lengthAdjust="spacingAndGlyphs">0.06</text>
<text x="391.25" y="445.39" font-size="10.8" text-anchor="end" font-weight="bold" font-style="normal" fill="#000" textLength="23.6" lengthAdjust="spacingAndGlyphs">0.08</text>
<text x="391.25" y="414.63" font-size="10.8" text-anchor="end" font-weight="bold" font-style="normal" fill="#000" textLength="23.6" lengthAdjust="spacingAndGlyphs">0.10</text>
<text x="391.25" y="383.87" font-size="10.8" text-anchor="end" font-weight="bold" font-style="normal" fill="#000" textLength="23.6" lengthAdjust="spacingAndGlyphs">0.12</text>
<text x="391.25" y="353.11" font-size="10.8" text-anchor="end" font-weight="bold" font-style="normal" fill="#000" textLength="23.6" lengthAdjust="spacingAndGlyphs">0.14</text>
<text x="391.25" y="322.35" font-size="10.8" text-anchor="end" font-weight="bold" font-style="normal" fill="#000" textLength="23.6" lengthAdjust="spacingAndGlyphs">0.16</text>
<line x1="409.6" y1="561.35" x2="409.6" y2="566.15" stroke="#000" stroke-width="1.2"/>
<line x1="473.53" y1="561.35" x2="473.53" y2="566.15" stroke="#000" stroke-width="1.2"/>
<line x1="537.46" y1="561.35" x2="537.46" y2="566.15" stroke="#000" stroke-width="1.2"/>
<line x1="601.39" y1="561.35" x2="601.39" y2="566.15" stroke="#000" stroke-width="1.2"/>
<line x1="665.32" y1="561.35" x2="665.32" y2="566.15" stroke="#000" stroke-width="1.2"/>
<line x1="441.56" y1="561.35" x2="441.56" y2="564.15" stroke="#000" stroke-width="1.2"/>
<line x1="505.5" y1="561.35" x2="505.5" y2="564.15" stroke="#000" stroke-width="1.2"/>
<line x1="569.42" y1="561.35" x2="569.42" y2="564.15" stroke="#000" stroke-width="1.2"/>
<line x1="633.36" y1="561.35" x2="633.36" y2="564.15" stroke="#000" stroke-width="1.2"/>
<text x="409.6" y="577.5" font-size="10.5" text-anchor="middle" font-weight="bold" font-style="normal" fill="#000">1</text>
<text x="473.53" y="577.5" font-size="10.5" text-anchor="middle" font-weight="bold" font-style="normal" fill="#000">2</text>
<text x="537.46" y="577.5" font-size="10.5" text-anchor="middle" font-weight="bold" font-style="normal" fill="#000">3</text>
<text x="601.39" y="577.5" font-size="10.5" text-anchor="middle" font-weight="bold" font-style="normal" fill="#000">4</text>
<text x="665.32" y="577.5" font-size="10.5" text-anchor="middle" font-weight="bold" font-style="normal" fill="#000">5</text>
<text x="494.3" y="597.3" font-size="13.5" text-anchor="start" font-weight="bold" font-style="normal" fill="#000" textLength="82.8" lengthAdjust="spacingAndGlyphs">Pore size (nm)</text>
<text transform="translate(357.6,512.5) rotate(-90)" x="0" y="0" font-size="13" font-weight="bold" textLength="71.5" lengthAdjust="spacingAndGlyphs">Pore volume</text>
<text transform="translate(357.6,434.4) rotate(-90)" x="0" y="0" font-size="13" font-weight="bold" textLength="77.6" lengthAdjust="spacingAndGlyphs">(cm<tspan font-size="9.5" dy="-6">3</tspan><tspan dy="6">g</tspan><tspan font-size="9.5" dy="-6">&#8722;1</tspan><tspan dy="6">nm</tspan><tspan font-size="9.5" dy="-6">&#8722;1</tspan><tspan dy="6">)</tspan></text>
<text x="623.6" y="338.4" font-size="13" text-anchor="start" font-weight="bold" font-style="italic" fill="#000" textLength="39.4" lengthAdjust="spacingAndGlyphs">AC3Fe</text>
<polyline points="455,776.4 458,757 462,727 465.6,702 472,670 479,639 488,757 492.4,818 528,842.6 557,853 598,861 648,867.4 680,868.2" fill="none" stroke="#000" stroke-width="1.55" stroke-linejoin="round"/>
<rect x="397.4" y="627" width="282.5" height="246.7" fill="none" stroke="#000" stroke-width="1.6"/>
<line x1="392.6" y1="816.4" x2="397.4" y2="816.4" stroke="#000" stroke-width="1.2"/>
<line x1="392.6" y1="754.97" x2="397.4" y2="754.97" stroke="#000" stroke-width="1.2"/>
<line x1="392.6" y1="693.53" x2="397.4" y2="693.53" stroke="#000" stroke-width="1.2"/>
<line x1="392.6" y1="632.1" x2="397.4" y2="632.1" stroke="#000" stroke-width="1.2"/>
<line x1="394.6" y1="847.12" x2="397.4" y2="847.12" stroke="#000" stroke-width="1.2"/>
<line x1="394.6" y1="785.69" x2="397.4" y2="785.69" stroke="#000" stroke-width="1.2"/>
<line x1="394.6" y1="724.25" x2="397.4" y2="724.25" stroke="#000" stroke-width="1.2"/>
<line x1="394.6" y1="662.82" x2="397.4" y2="662.82" stroke="#000" stroke-width="1.2"/>
<text x="390.6" y="819.05" font-size="10.8" text-anchor="end" font-weight="bold" font-style="normal" fill="#000" textLength="23.6" lengthAdjust="spacingAndGlyphs">0.02</text>
<text x="390.6" y="757.62" font-size="10.8" text-anchor="end" font-weight="bold" font-style="normal" fill="#000" textLength="23.6" lengthAdjust="spacingAndGlyphs">0.04</text>
<text x="390.6" y="696.18" font-size="10.8" text-anchor="end" font-weight="bold" font-style="normal" fill="#000" textLength="23.6" lengthAdjust="spacingAndGlyphs">0.06</text>
<text x="390.6" y="634.75" font-size="10.8" text-anchor="end" font-weight="bold" font-style="normal" fill="#000" textLength="23.6" lengthAdjust="spacingAndGlyphs">0.08</text>
<line x1="423.1" y1="873.7" x2="423.1" y2="878.5" stroke="#000" stroke-width="1.2"/>
<line x1="484.95" y1="873.7" x2="484.95" y2="878.5" stroke="#000" stroke-width="1.2"/>
<line x1="546.8" y1="873.7" x2="546.8" y2="878.5" stroke="#000" stroke-width="1.2"/>
<line x1="608.65" y1="873.7" x2="608.65" y2="878.5" stroke="#000" stroke-width="1.2"/>
<line x1="670.5" y1="873.7" x2="670.5" y2="878.5" stroke="#000" stroke-width="1.2"/>
<line x1="454.03" y1="873.7" x2="454.03" y2="876.5" stroke="#000" stroke-width="1.2"/>
<line x1="515.88" y1="873.7" x2="515.88" y2="876.5" stroke="#000" stroke-width="1.2"/>
<line x1="577.73" y1="873.7" x2="577.73" y2="876.5" stroke="#000" stroke-width="1.2"/>
<line x1="639.58" y1="873.7" x2="639.58" y2="876.5" stroke="#000" stroke-width="1.2"/>
<text x="423.1" y="888.7" font-size="10.5" text-anchor="middle" font-weight="bold" font-style="normal" fill="#000">1</text>
<text x="484.95" y="888.7" font-size="10.5" text-anchor="middle" font-weight="bold" font-style="normal" fill="#000">2</text>
<text x="546.8" y="888.7" font-size="10.5" text-anchor="middle" font-weight="bold" font-style="normal" fill="#000">3</text>
<text x="608.65" y="888.7" font-size="10.5" text-anchor="middle" font-weight="bold" font-style="normal" fill="#000">4</text>
<text x="670.5" y="888.7" font-size="10.5" text-anchor="middle" font-weight="bold" font-style="normal" fill="#000">5</text>
<text x="483.3" y="914" font-size="13.5" text-anchor="start" font-weight="bold" font-style="normal" fill="#000" textLength="82.5" lengthAdjust="spacingAndGlyphs">Pore size (nm)</text>
<text transform="translate(352.3,826.6) rotate(-90)" x="0" y="0" font-size="13" font-weight="bold" textLength="72.7" lengthAdjust="spacingAndGlyphs">Pore volume</text>
<text transform="translate(352.3,747.6) rotate(-90)" x="0" y="0" font-size="13" font-weight="bold" textLength="77.7" lengthAdjust="spacingAndGlyphs">(cm<tspan font-size="9.5" dy="-6">3</tspan><tspan dy="6">g</tspan><tspan font-size="9.5" dy="-6">&#8722;1</tspan><tspan dy="6">nm</tspan><tspan font-size="9.5" dy="-6">&#8722;1</tspan><tspan dy="6">)</tspan></text>
<text x="628.8" y="652.5" font-size="13" text-anchor="start" font-weight="bold" font-style="italic" fill="#000" textLength="39.4" lengthAdjust="spacingAndGlyphs">AC5Fe</text>
<polyline points="485.6,1032.4 499,948.4 510,1062 516.4,1125 534.4,1140 555.6,1150 585,1159.6 628,1167.4 681,1172.4" fill="none" stroke="#000" stroke-width="1.55" stroke-linejoin="round"/>
<rect x="396.1" y="930.9" width="284.9" height="248" fill="none" stroke="#000" stroke-width="1.6"/>
<line x1="391.3" y1="1147.98" x2="396.1" y2="1147.98" stroke="#000" stroke-width="1.2"/>
<line x1="391.3" y1="1112.65" x2="396.1" y2="1112.65" stroke="#000" stroke-width="1.2"/>
<line x1="391.3" y1="1077.32" x2="396.1" y2="1077.32" stroke="#000" stroke-width="1.2"/>
<line x1="391.3" y1="1041.99" x2="396.1" y2="1041.99" stroke="#000" stroke-width="1.2"/>
<line x1="391.3" y1="1006.66" x2="396.1" y2="1006.66" stroke="#000" stroke-width="1.2"/>
<line x1="391.3" y1="971.33" x2="396.1" y2="971.33" stroke="#000" stroke-width="1.2"/>
<line x1="391.3" y1="936" x2="396.1" y2="936" stroke="#000" stroke-width="1.2"/>
<line x1="393.3" y1="1165.64" x2="396.1" y2="1165.64" stroke="#000" stroke-width="1.2"/>
<line x1="393.3" y1="1130.32" x2="396.1" y2="1130.32" stroke="#000" stroke-width="1.2"/>
<line x1="393.3" y1="1094.99" x2="396.1" y2="1094.99" stroke="#000" stroke-width="1.2"/>
<line x1="393.3" y1="1059.65" x2="396.1" y2="1059.65" stroke="#000" stroke-width="1.2"/>
<line x1="393.3" y1="1024.33" x2="396.1" y2="1024.33" stroke="#000" stroke-width="1.2"/>
<line x1="393.3" y1="989" x2="396.1" y2="989" stroke="#000" stroke-width="1.2"/>
<line x1="393.3" y1="953.66" x2="396.1" y2="953.66" stroke="#000" stroke-width="1.2"/>
<text x="389.3" y="1150.63" font-size="10.8" text-anchor="end" font-weight="bold" font-style="normal" fill="#000" textLength="23.6" lengthAdjust="spacingAndGlyphs">0.01</text>
<text x="389.3" y="1115.3" font-size="10.8" text-anchor="end" font-weight="bold" font-style="normal" fill="#000" textLength="23.6" lengthAdjust="spacingAndGlyphs">0.02</text>
<text x="389.3" y="1079.97" font-size="10.8" text-anchor="end" font-weight="bold" font-style="normal" fill="#000" textLength="23.6" lengthAdjust="spacingAndGlyphs">0.03</text>
<text x="389.3" y="1044.64" font-size="10.8" text-anchor="end" font-weight="bold" font-style="normal" fill="#000" textLength="23.6" lengthAdjust="spacingAndGlyphs">0.04</text>
<text x="389.3" y="1009.31" font-size="10.8" text-anchor="end" font-weight="bold" font-style="normal" fill="#000" textLength="23.6" lengthAdjust="spacingAndGlyphs">0.05</text>
<text x="389.3" y="973.98" font-size="10.8" text-anchor="end" font-weight="bold" font-style="normal" fill="#000" textLength="23.6" lengthAdjust="spacingAndGlyphs">0.06</text>
<text x="389.3" y="938.65" font-size="10.8" text-anchor="end" font-weight="bold" font-style="normal" fill="#000" textLength="23.6" lengthAdjust="spacingAndGlyphs">0.07</text>
<line x1="440.5" y1="1178.9" x2="440.5" y2="1183.7" stroke="#000" stroke-width="1.2"/>
<line x1="507.85" y1="1178.9" x2="507.85" y2="1183.7" stroke="#000" stroke-width="1.2"/>
<line x1="575.2" y1="1178.9" x2="575.2" y2="1183.7" stroke="#000" stroke-width="1.2"/>
<line x1="642.55" y1="1178.9" x2="642.55" y2="1183.7" stroke="#000" stroke-width="1.2"/>
<line x1="406.82" y1="1178.9" x2="406.82" y2="1181.7" stroke="#000" stroke-width="1.2"/>
<line x1="474.18" y1="1178.9" x2="474.18" y2="1181.7" stroke="#000" stroke-width="1.2"/>
<line x1="541.52" y1="1178.9" x2="541.52" y2="1181.7" stroke="#000" stroke-width="1.2"/>
<line x1="608.88" y1="1178.9" x2="608.88" y2="1181.7" stroke="#000" stroke-width="1.2"/>
<line x1="676.22" y1="1178.9" x2="676.22" y2="1181.7" stroke="#000" stroke-width="1.2"/>
<text x="440.5" y="1194.3" font-size="10" text-anchor="middle" font-weight="bold" font-style="normal" fill="#000">1</text>
<text x="507.85" y="1194.3" font-size="10" text-anchor="middle" font-weight="bold" font-style="normal" fill="#000">2</text>
<text x="575.2" y="1194.3" font-size="10" text-anchor="middle" font-weight="bold" font-style="normal" fill="#000">3</text>
<text x="642.55" y="1194.3" font-size="10" text-anchor="middle" font-weight="bold" font-style="normal" fill="#000">4</text>
<text x="486.8" y="1219.7" font-size="13.5" text-anchor="start" font-weight="bold" font-style="normal" fill="#000" textLength="83.7" lengthAdjust="spacingAndGlyphs">Pore size (nm)</text>
<text transform="translate(347.7,1133.9) rotate(-90)" x="0" y="0" font-size="13" font-weight="bold" textLength="72.8" lengthAdjust="spacingAndGlyphs">Pore volume</text>
<text transform="translate(347.7,1054.6) rotate(-90)" x="0" y="0" font-size="13" font-weight="bold" textLength="78.3" lengthAdjust="spacingAndGlyphs">(cm<tspan font-size="9.5" dy="-6">3</tspan><tspan dy="6">g</tspan><tspan font-size="9.5" dy="-6">&#8722;1</tspan><tspan dy="6">nm</tspan><tspan font-size="9.5" dy="-6">&#8722;1</tspan><tspan dy="6">)</tspan></text>
<text x="631.6" y="951" font-size="13" text-anchor="start" font-weight="bold" font-style="italic" fill="#000" textLength="39.4" lengthAdjust="spacingAndGlyphs">AC7Fe</text>
<polyline points="481,1315.4 497.6,1255 511,1370 519,1436.6 544.4,1452 577,1463.6 614,1472.6 648,1477 684,1480.4" fill="none" stroke="#000" stroke-width="1.55" stroke-linejoin="round"/>
<rect x="399.25" y="1238.75" width="284.75" height="247.95" fill="none" stroke="#000" stroke-width="1.6"/>
<line x1="394.45" y1="1457" x2="399.25" y2="1457" stroke="#000" stroke-width="1.2"/>
<line x1="394.45" y1="1419.72" x2="399.25" y2="1419.72" stroke="#000" stroke-width="1.2"/>
<line x1="394.45" y1="1382.44" x2="399.25" y2="1382.44" stroke="#000" stroke-width="1.2"/>
<line x1="394.45" y1="1345.16" x2="399.25" y2="1345.16" stroke="#000" stroke-width="1.2"/>
<line x1="394.45" y1="1307.88" x2="399.25" y2="1307.88" stroke="#000" stroke-width="1.2"/>
<line x1="394.45" y1="1270.6" x2="399.25" y2="1270.6" stroke="#000" stroke-width="1.2"/>
<line x1="396.45" y1="1475.64" x2="399.25" y2="1475.64" stroke="#000" stroke-width="1.2"/>
<line x1="396.45" y1="1438.36" x2="399.25" y2="1438.36" stroke="#000" stroke-width="1.2"/>
<line x1="396.45" y1="1401.08" x2="399.25" y2="1401.08" stroke="#000" stroke-width="1.2"/>
<line x1="396.45" y1="1363.8" x2="399.25" y2="1363.8" stroke="#000" stroke-width="1.2"/>
<line x1="396.45" y1="1326.52" x2="399.25" y2="1326.52" stroke="#000" stroke-width="1.2"/>
<line x1="396.45" y1="1289.24" x2="399.25" y2="1289.24" stroke="#000" stroke-width="1.2"/>
<line x1="396.45" y1="1251.96" x2="399.25" y2="1251.96" stroke="#000" stroke-width="1.2"/>
<text x="392.45" y="1459.65" font-size="10.8" text-anchor="end" font-weight="bold" font-style="normal" fill="#000" textLength="23.6" lengthAdjust="spacingAndGlyphs">0.02</text>
<text x="392.45" y="1422.37" font-size="10.8" text-anchor="end" font-weight="bold" font-style="normal" fill="#000" textLength="23.6" lengthAdjust="spacingAndGlyphs">0.04</text>
<text x="392.45" y="1385.09" font-size="10.8" text-anchor="end" font-weight="bold" font-style="normal" fill="#000" textLength="23.6" lengthAdjust="spacingAndGlyphs">0.06</text>
<text x="392.45" y="1347.81" font-size="10.8" text-anchor="end" font-weight="bold" font-style="normal" fill="#000" textLength="23.6" lengthAdjust="spacingAndGlyphs">0.08</text>
<text x="392.45" y="1310.53" font-size="10.8" text-anchor="end" font-weight="bold" font-style="normal" fill="#000" textLength="23.6" lengthAdjust="spacingAndGlyphs">0.10</text>
<text x="392.45" y="1273.25" font-size="10.8" text-anchor="end" font-weight="bold" font-style="normal" fill="#000" textLength="23.6" lengthAdjust="spacingAndGlyphs">0.12</text>
<line x1="417.3" y1="1486.7" x2="417.3" y2="1491.5" stroke="#000" stroke-width="1.2"/>
<line x1="462.5" y1="1486.7" x2="462.5" y2="1491.5" stroke="#000" stroke-width="1.2"/>
<line x1="507.7" y1="1486.7" x2="507.7" y2="1491.5" stroke="#000" stroke-width="1.2"/>
<line x1="552.9" y1="1486.7" x2="552.9" y2="1491.5" stroke="#000" stroke-width="1.2"/>
<line x1="598.1" y1="1486.7" x2="598.1" y2="1491.5" stroke="#000" stroke-width="1.2"/>
<line x1="643.3" y1="1486.7" x2="643.3" y2="1491.5" stroke="#000" stroke-width="1.2"/>
<line x1="439.9" y1="1486.7" x2="439.9" y2="1489.5" stroke="#000" stroke-width="1.2"/>
<line x1="485.1" y1="1486.7" x2="485.1" y2="1489.5" stroke="#000" stroke-width="1.2"/>
<line x1="530.3" y1="1486.7" x2="530.3" y2="1489.5" stroke="#000" stroke-width="1.2"/>
<line x1="575.5" y1="1486.7" x2="575.5" y2="1489.5" stroke="#000" stroke-width="1.2"/>
<line x1="620.7" y1="1486.7" x2="620.7" y2="1489.5" stroke="#000" stroke-width="1.2"/>
<line x1="665.9" y1="1486.7" x2="665.9" y2="1489.5" stroke="#000" stroke-width="1.2"/>
<text x="417.3" y="1502.8" font-size="10.5" text-anchor="middle" font-weight="bold" font-style="normal" fill="#000" textLength="15.6" lengthAdjust="spacingAndGlyphs">1.0</text>
<text x="462.5" y="1502.8" font-size="10.5" text-anchor="middle" font-weight="bold" font-style="normal" fill="#000" textLength="15.6" lengthAdjust="spacingAndGlyphs">1.5</text>
<text x="507.7" y="1502.8" font-size="10.5" text-anchor="middle" font-weight="bold" font-style="normal" fill="#000" textLength="15.6" lengthAdjust="spacingAndGlyphs">2.0</text>
<text x="552.9" y="1502.8" font-size="10.5" text-anchor="middle" font-weight="bold" font-style="normal" fill="#000" textLength="15.6" lengthAdjust="spacingAndGlyphs">2.5</text>
<text x="598.1" y="1502.8" font-size="10.5" text-anchor="middle" font-weight="bold" font-style="normal" fill="#000" textLength="15.6" lengthAdjust="spacingAndGlyphs">3.0</text>
<text x="643.3" y="1502.8" font-size="10.5" text-anchor="middle" font-weight="bold" font-style="normal" fill="#000" textLength="15.6" lengthAdjust="spacingAndGlyphs">3.5</text>
<text x="483.3" y="1523.5" font-size="13.5" text-anchor="start" font-weight="bold" font-style="normal" fill="#000" textLength="83.5" lengthAdjust="spacingAndGlyphs">Pore size (nm)</text>
<text transform="translate(358.8,1444.2) rotate(-90)" x="0" y="0" font-size="13" font-weight="bold" textLength="72.6" lengthAdjust="spacingAndGlyphs">Pore volume</text>
<text transform="translate(358.8,1365.7) rotate(-90)" x="0" y="0" font-size="13" font-weight="bold" textLength="78.5" lengthAdjust="spacingAndGlyphs">(cm<tspan font-size="9.5" dy="-6">3</tspan><tspan dy="6">g</tspan><tspan font-size="9.5" dy="-6">&#8722;1</tspan><tspan dy="6">nm</tspan><tspan font-size="9.5" dy="-6">&#8722;1</tspan><tspan dy="6">)</tspan></text>
<text x="639" y="1257.4" font-size="13" text-anchor="start" font-weight="bold" font-style="italic" fill="#000" textLength="24" lengthAdjust="spacingAndGlyphs">AC3</text>
</svg>
</body></html>
